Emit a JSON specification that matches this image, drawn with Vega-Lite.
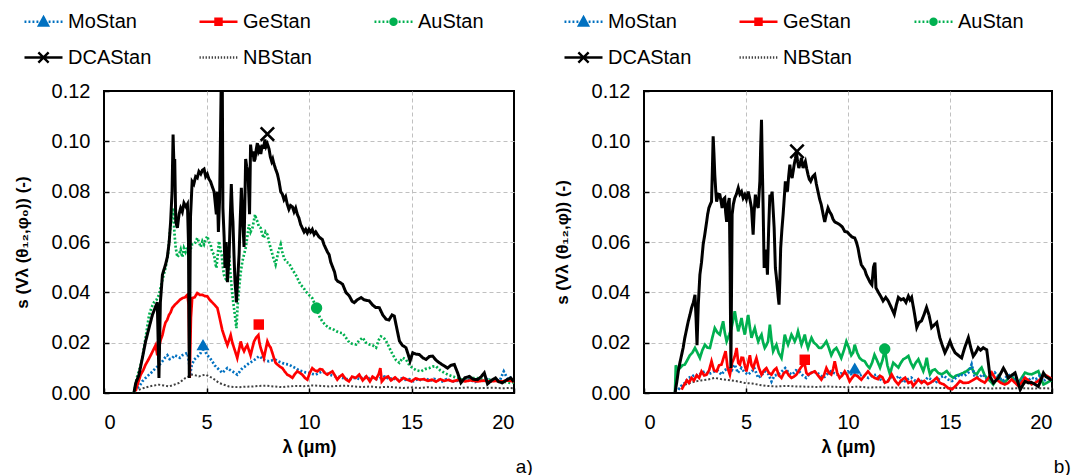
{
"$schema": "https://vega.github.io/schema/vega-lite/v6.json",
"padding": {"left": 12, "top": 0, "right": 5, "bottom": 0},
"spacing": 18,
"config": {
 "font": "Liberation Sans",
 "view": {"stroke": "#000000", "strokeWidth": 2},
 "axis": {"domain": false, "grid": true, "gridColor": "#c0c0c0", "gridDash": [4, 3], "gridWidth": 1, "ticks": true, "tickColor": "#000000", "tickSize": -5, "tickWidth": 1.5, "labelFontSize": 20, "labelColor": "#000000", "titleFontSize": 18, "titleFontWeight": "bold", "titleColor": "#000000"},
 "title": {"fontSize": 19, "fontWeight": "normal", "color": "#000000"},
 "legend": {"direction": "horizontal", "columns": 3, "gridAlign": "all", "columnPadding": 42, "rowPadding": 5, "labelFontSize": 20, "labelOffset": 4, "labelColor": "#000000", "symbolStrokeWidth": 2.4, "symbolSize": 1444, "symbolOpacity": 1, "padding": 0}
},
"resolve": {"scale": {"color": "independent", "shape": "independent", "stroke": "independent", "fill": "independent"}},
"datasets": {
 "markers": [
  {"panel": "a", "series": "MoStan", "x": 4.83, "y": 0.0192},
  {"panel": "a", "series": "GeStan", "x": 7.55, "y": 0.0272},
  {"panel": "a", "series": "AuStan", "x": 10.37, "y": 0.0338},
  {"panel": "a", "series": "DCAStan", "x": 7.97, "y": 0.1029},
  {"panel": "b", "series": "MoStan", "x": 10.33, "y": 0.0099},
  {"panel": "b", "series": "GeStan", "x": 7.88, "y": 0.0132},
  {"panel": "b", "series": "AuStan", "x": 11.8, "y": 0.0175},
  {"panel": "b", "series": "DCAStan", "x": 7.5, "y": 0.096}
 ],
 "lines": [
{"panel":"a","series":"NBStan","x":1.7,"y":0.0013},{"panel":"a","series":"NBStan","x":1.95,"y":0.002},{"panel":"a","series":"NBStan","x":2.2,"y":0.0026},{"panel":"a","series":"NBStan","x":2.45,"y":0.003},{"panel":"a","series":"NBStan","x":2.68,"y":0.0033},{"panel":"a","series":"NBStan","x":2.92,"y":0.003},{"panel":"a","series":"NBStan","x":3.17,"y":0.0026},{"panel":"a","series":"NBStan","x":3.42,"y":0.0033},{"panel":"a","series":"NBStan","x":3.66,"y":0.004},{"panel":"a","series":"NBStan","x":3.82,"y":0.005},{"panel":"a","series":"NBStan","x":3.98,"y":0.006},{"panel":"a","series":"NBStan","x":4.14,"y":0.0066},{"panel":"a","series":"NBStan","x":4.3,"y":0.0073},{"panel":"a","series":"NBStan","x":4.47,"y":0.007},{"panel":"a","series":"NBStan","x":4.63,"y":0.0066},{"panel":"a","series":"NBStan","x":4.8,"y":0.007},{"panel":"a","series":"NBStan","x":4.96,"y":0.0073},{"panel":"a","series":"NBStan","x":5.12,"y":0.0066},{"panel":"a","series":"NBStan","x":5.28,"y":0.006},{"panel":"a","series":"NBStan","x":5.45,"y":0.005},{"panel":"a","series":"NBStan","x":5.61,"y":0.004},{"panel":"a","series":"NBStan","x":5.85,"y":0.0033},{"panel":"a","series":"NBStan","x":6.1,"y":0.0026},{"panel":"a","series":"NBStan","x":6.35,"y":0.0024},{"panel":"a","series":"NBStan","x":6.59,"y":0.0023},{"panel":"a","series":"NBStan","x":6.9,"y":0.0025},{"panel":"a","series":"NBStan","x":7.24,"y":0.0026},{"panel":"a","series":"NBStan","x":7.55,"y":0.0028},{"panel":"a","series":"NBStan","x":7.89,"y":0.0029},{"panel":"a","series":"NBStan","x":8.3,"y":0.0026},{"panel":"a","series":"NBStan","x":8.7,"y":0.0023},{"panel":"a","series":"NBStan","x":9.0,"y":0.0026},{"panel":"a","series":"NBStan","x":9.35,"y":0.0028},{"panel":"a","series":"NBStan","x":9.75,"y":0.0027},{"panel":"a","series":"NBStan","x":10.16,"y":0.003},{"panel":"a","series":"NBStan","x":10.6,"y":0.0028},{"panel":"a","series":"NBStan","x":10.98,"y":0.0026},{"panel":"a","series":"NBStan","x":11.4,"y":0.0028},{"panel":"a","series":"NBStan","x":11.79,"y":0.0029},{"panel":"a","series":"NBStan","x":12.2,"y":0.0026},{"panel":"a","series":"NBStan","x":12.6,"y":0.0024},{"panel":"a","series":"NBStan","x":13.0,"y":0.0026},{"panel":"a","series":"NBStan","x":13.4,"y":0.0022},{"panel":"a","series":"NBStan","x":13.8,"y":0.0025},{"panel":"a","series":"NBStan","x":14.2,"y":0.0022},{"panel":"a","series":"NBStan","x":14.6,"y":0.002},{"panel":"a","series":"NBStan","x":15.0,"y":0.0022},{"panel":"a","series":"NBStan","x":15.4,"y":0.002},{"panel":"a","series":"NBStan","x":15.8,"y":0.0023},{"panel":"a","series":"NBStan","x":16.2,"y":0.002},{"panel":"a","series":"NBStan","x":16.6,"y":0.0022},{"panel":"a","series":"NBStan","x":17.0,"y":0.0019},{"panel":"a","series":"NBStan","x":17.4,"y":0.002},{"panel":"a","series":"NBStan","x":17.8,"y":0.0022},{"panel":"a","series":"NBStan","x":18.2,"y":0.0019},{"panel":"a","series":"NBStan","x":18.6,"y":0.002},{"panel":"a","series":"NBStan","x":19.0,"y":0.0021},{"panel":"a","series":"NBStan","x":19.4,"y":0.0019},{"panel":"a","series":"NBStan","x":19.8,"y":0.002},{"panel":"a","series":"NBStan","x":20.0,"y":0.0019},
{"panel":"a","series":"AuStan","x":1.46,"y":0.0},{"panel":"a","series":"AuStan","x":1.6,"y":0.006},{"panel":"a","series":"AuStan","x":1.75,"y":0.01},{"panel":"a","series":"AuStan","x":1.87,"y":0.0139},{"panel":"a","series":"AuStan","x":2.03,"y":0.022},{"panel":"a","series":"AuStan","x":2.2,"y":0.031},{"panel":"a","series":"AuStan","x":2.32,"y":0.034},{"panel":"a","series":"AuStan","x":2.44,"y":0.036},{"panel":"a","series":"AuStan","x":2.56,"y":0.037},{"panel":"a","series":"AuStan","x":2.68,"y":0.039},{"panel":"a","series":"AuStan","x":2.85,"y":0.045},{"panel":"a","series":"AuStan","x":3.0,"y":0.0497},{"panel":"a","series":"AuStan","x":3.12,"y":0.055},{"panel":"a","series":"AuStan","x":3.25,"y":0.0669},{"panel":"a","series":"AuStan","x":3.32,"y":0.07},{"panel":"a","series":"AuStan","x":3.37,"y":0.0735},{"panel":"a","series":"AuStan","x":3.44,"y":0.063},{"panel":"a","series":"AuStan","x":3.5,"y":0.0576},{"panel":"a","series":"AuStan","x":3.58,"y":0.054},{"panel":"a","series":"AuStan","x":3.66,"y":0.055},{"panel":"a","series":"AuStan","x":3.74,"y":0.057},{"panel":"a","series":"AuStan","x":3.82,"y":0.054},{"panel":"a","series":"AuStan","x":3.9,"y":0.0576},{"panel":"a","series":"AuStan","x":3.98,"y":0.056},{"panel":"a","series":"AuStan","x":4.07,"y":0.058},{"panel":"a","series":"AuStan","x":4.15,"y":0.055},{"panel":"a","series":"AuStan","x":4.22,"y":0.057},{"panel":"a","series":"AuStan","x":4.3,"y":0.059},{"panel":"a","series":"AuStan","x":4.39,"y":0.059},{"panel":"a","series":"AuStan","x":4.47,"y":0.06},{"panel":"a","series":"AuStan","x":4.55,"y":0.0616},{"panel":"a","series":"AuStan","x":4.63,"y":0.06},{"panel":"a","series":"AuStan","x":4.72,"y":0.058},{"panel":"a","series":"AuStan","x":4.8,"y":0.0603},{"panel":"a","series":"AuStan","x":4.88,"y":0.059},{"panel":"a","series":"AuStan","x":4.96,"y":0.061},{"panel":"a","series":"AuStan","x":5.04,"y":0.0623},{"panel":"a","series":"AuStan","x":5.12,"y":0.06},{"panel":"a","series":"AuStan","x":5.2,"y":0.059},{"panel":"a","series":"AuStan","x":5.28,"y":0.056},{"panel":"a","series":"AuStan","x":5.37,"y":0.055},{"panel":"a","series":"AuStan","x":5.42,"y":0.052},{"panel":"a","series":"AuStan","x":5.48,"y":0.0497},{"panel":"a","series":"AuStan","x":5.55,"y":0.055},{"panel":"a","series":"AuStan","x":5.61,"y":0.0603},{"panel":"a","series":"AuStan","x":5.68,"y":0.057},{"panel":"a","series":"AuStan","x":5.74,"y":0.055},{"panel":"a","series":"AuStan","x":5.8,"y":0.05},{"panel":"a","series":"AuStan","x":5.85,"y":0.047},{"panel":"a","series":"AuStan","x":5.92,"y":0.046},{"panel":"a","series":"AuStan","x":5.97,"y":0.0444},{"panel":"a","series":"AuStan","x":6.04,"y":0.05},{"panel":"a","series":"AuStan","x":6.1,"y":0.055},{"panel":"a","series":"AuStan","x":6.16,"y":0.048},{"panel":"a","series":"AuStan","x":6.23,"y":0.0417},{"panel":"a","series":"AuStan","x":6.29,"y":0.037},{"panel":"a","series":"AuStan","x":6.34,"y":0.0338},{"panel":"a","series":"AuStan","x":6.4,"y":0.03},{"panel":"a","series":"AuStan","x":6.46,"y":0.0258},{"panel":"a","series":"AuStan","x":6.52,"y":0.035},{"panel":"a","series":"AuStan","x":6.59,"y":0.0417},{"panel":"a","series":"AuStan","x":6.67,"y":0.048},{"panel":"a","series":"AuStan","x":6.75,"y":0.0523},{"panel":"a","series":"AuStan","x":6.83,"y":0.055},{"panel":"a","series":"AuStan","x":6.91,"y":0.0576},{"panel":"a","series":"AuStan","x":6.99,"y":0.062},{"panel":"a","series":"AuStan","x":7.07,"y":0.0669},{"panel":"a","series":"AuStan","x":7.15,"y":0.064},{"panel":"a","series":"AuStan","x":7.24,"y":0.0656},{"panel":"a","series":"AuStan","x":7.3,"y":0.068},{"panel":"a","series":"AuStan","x":7.37,"y":0.0709},{"panel":"a","series":"AuStan","x":7.43,"y":0.069},{"panel":"a","series":"AuStan","x":7.48,"y":0.0682},{"panel":"a","series":"AuStan","x":7.56,"y":0.066},{"panel":"a","series":"AuStan","x":7.64,"y":0.0656},{"panel":"a","series":"AuStan","x":7.72,"y":0.063},{"panel":"a","series":"AuStan","x":7.8,"y":0.0616},{"panel":"a","series":"AuStan","x":7.88,"y":0.064},{"panel":"a","series":"AuStan","x":7.97,"y":0.063},{"panel":"a","series":"AuStan","x":8.05,"y":0.06},{"panel":"a","series":"AuStan","x":8.13,"y":0.0576},{"panel":"a","series":"AuStan","x":8.25,"y":0.054},{"panel":"a","series":"AuStan","x":8.37,"y":0.051},{"panel":"a","series":"AuStan","x":8.5,"y":0.056},{"panel":"a","series":"AuStan","x":8.62,"y":0.059},{"panel":"a","series":"AuStan","x":8.7,"y":0.056},{"panel":"a","series":"AuStan","x":8.78,"y":0.0536},{"panel":"a","series":"AuStan","x":8.9,"y":0.052},{"panel":"a","series":"AuStan","x":9.02,"y":0.0517},{"panel":"a","series":"AuStan","x":9.19,"y":0.049},{"panel":"a","series":"AuStan","x":9.35,"y":0.047},{"panel":"a","series":"AuStan","x":9.47,"y":0.045},{"panel":"a","series":"AuStan","x":9.59,"y":0.043},{"panel":"a","series":"AuStan","x":9.72,"y":0.042},{"panel":"a","series":"AuStan","x":9.84,"y":0.0404},{"panel":"a","series":"AuStan","x":10.0,"y":0.039},{"panel":"a","series":"AuStan","x":10.16,"y":0.0377},{"panel":"a","series":"AuStan","x":10.3,"y":0.035},{"panel":"a","series":"AuStan","x":10.41,"y":0.0325},{"panel":"a","series":"AuStan","x":10.53,"y":0.03},{"panel":"a","series":"AuStan","x":10.65,"y":0.0285},{"panel":"a","series":"AuStan","x":10.8,"y":0.027},{"panel":"a","series":"AuStan","x":10.98,"y":0.0258},{"panel":"a","series":"AuStan","x":11.14,"y":0.0255},{"panel":"a","series":"AuStan","x":11.32,"y":0.0246},{"panel":"a","series":"AuStan","x":11.47,"y":0.024},{"panel":"a","series":"AuStan","x":11.64,"y":0.0238},{"panel":"a","series":"AuStan","x":11.8,"y":0.022},{"panel":"a","series":"AuStan","x":11.97,"y":0.02},{"panel":"a","series":"AuStan","x":12.13,"y":0.0195},{"panel":"a","series":"AuStan","x":12.3,"y":0.0193},{"panel":"a","series":"AuStan","x":12.46,"y":0.021},{"panel":"a","series":"AuStan","x":12.62,"y":0.022},{"panel":"a","series":"AuStan","x":12.78,"y":0.02},{"panel":"a","series":"AuStan","x":12.94,"y":0.0193},{"panel":"a","series":"AuStan","x":13.1,"y":0.019},{"panel":"a","series":"AuStan","x":13.27,"y":0.018},{"panel":"a","series":"AuStan","x":13.4,"y":0.021},{"panel":"a","series":"AuStan","x":13.51,"y":0.0225},{"panel":"a","series":"AuStan","x":13.64,"y":0.022},{"panel":"a","series":"AuStan","x":13.76,"y":0.0207},{"panel":"a","series":"AuStan","x":13.92,"y":0.018},{"panel":"a","series":"AuStan","x":14.08,"y":0.0153},{"panel":"a","series":"AuStan","x":14.25,"y":0.013},{"panel":"a","series":"AuStan","x":14.41,"y":0.012},{"panel":"a","series":"AuStan","x":14.57,"y":0.014},{"panel":"a","series":"AuStan","x":14.73,"y":0.0133},{"panel":"a","series":"AuStan","x":14.9,"y":0.011},{"panel":"a","series":"AuStan","x":15.06,"y":0.0099},{"panel":"a","series":"AuStan","x":15.25,"y":0.009},{"panel":"a","series":"AuStan","x":15.46,"y":0.0086},{"panel":"a","series":"AuStan","x":15.66,"y":0.0095},{"panel":"a","series":"AuStan","x":15.87,"y":0.0099},{"panel":"a","series":"AuStan","x":16.03,"y":0.0105},{"panel":"a","series":"AuStan","x":16.2,"y":0.0106},{"panel":"a","series":"AuStan","x":16.4,"y":0.009},{"panel":"a","series":"AuStan","x":16.6,"y":0.008},{"panel":"a","series":"AuStan","x":16.8,"y":0.0072},{"panel":"a","series":"AuStan","x":17.0,"y":0.0066},{"panel":"a","series":"AuStan","x":17.25,"y":0.006},{"panel":"a","series":"AuStan","x":17.49,"y":0.0053},{"panel":"a","series":"AuStan","x":17.8,"y":0.0058},{"panel":"a","series":"AuStan","x":18.14,"y":0.006},{"panel":"a","series":"AuStan","x":18.45,"y":0.0055},{"panel":"a","series":"AuStan","x":18.79,"y":0.0053},{"panel":"a","series":"AuStan","x":19.1,"y":0.005},{"panel":"a","series":"AuStan","x":19.43,"y":0.0046},{"panel":"a","series":"AuStan","x":19.84,"y":0.004},{"panel":"a","series":"AuStan","x":20.0,"y":0.0042},
{"panel":"a","series":"MoStan","x":1.63,"y":0.002},{"panel":"a","series":"MoStan","x":1.75,"y":0.003},{"panel":"a","series":"MoStan","x":1.87,"y":0.0046},{"panel":"a","series":"MoStan","x":2.03,"y":0.006},{"panel":"a","series":"MoStan","x":2.2,"y":0.0073},{"panel":"a","series":"MoStan","x":2.36,"y":0.0085},{"panel":"a","series":"MoStan","x":2.52,"y":0.0099},{"panel":"a","series":"MoStan","x":2.68,"y":0.011},{"panel":"a","series":"MoStan","x":2.85,"y":0.0126},{"panel":"a","series":"MoStan","x":2.97,"y":0.014},{"panel":"a","series":"MoStan","x":3.09,"y":0.015},{"panel":"a","series":"MoStan","x":3.2,"y":0.0135},{"panel":"a","series":"MoStan","x":3.33,"y":0.0139},{"panel":"a","series":"MoStan","x":3.45,"y":0.015},{"panel":"a","series":"MoStan","x":3.58,"y":0.0146},{"panel":"a","series":"MoStan","x":3.7,"y":0.014},{"panel":"a","series":"MoStan","x":3.82,"y":0.015},{"panel":"a","series":"MoStan","x":3.95,"y":0.0155},{"panel":"a","series":"MoStan","x":4.07,"y":0.0159},{"panel":"a","series":"MoStan","x":4.15,"y":0.012},{"panel":"a","series":"MoStan","x":4.2,"y":0.0073},{"panel":"a","series":"MoStan","x":4.28,"y":0.011},{"panel":"a","series":"MoStan","x":4.39,"y":0.0132},{"panel":"a","series":"MoStan","x":4.5,"y":0.014},{"panel":"a","series":"MoStan","x":4.63,"y":0.015},{"panel":"a","series":"MoStan","x":4.72,"y":0.016},{"panel":"a","series":"MoStan","x":4.83,"y":0.018},{"panel":"a","series":"MoStan","x":4.93,"y":0.0165},{"panel":"a","series":"MoStan","x":5.04,"y":0.015},{"panel":"a","series":"MoStan","x":5.16,"y":0.014},{"panel":"a","series":"MoStan","x":5.28,"y":0.0126},{"panel":"a","series":"MoStan","x":5.4,"y":0.011},{"panel":"a","series":"MoStan","x":5.53,"y":0.0099},{"panel":"a","series":"MoStan","x":5.65,"y":0.009},{"panel":"a","series":"MoStan","x":5.77,"y":0.008},{"panel":"a","series":"MoStan","x":5.9,"y":0.009},{"panel":"a","series":"MoStan","x":6.02,"y":0.0099},{"panel":"a","series":"MoStan","x":6.14,"y":0.0092},{"panel":"a","series":"MoStan","x":6.26,"y":0.0086},{"panel":"a","series":"MoStan","x":6.38,"y":0.008},{"panel":"a","series":"MoStan","x":6.5,"y":0.0073},{"panel":"a","series":"MoStan","x":6.62,"y":0.0085},{"panel":"a","series":"MoStan","x":6.75,"y":0.0099},{"panel":"a","series":"MoStan","x":6.87,"y":0.0105},{"panel":"a","series":"MoStan","x":6.99,"y":0.0113},{"panel":"a","series":"MoStan","x":7.11,"y":0.012},{"panel":"a","series":"MoStan","x":7.24,"y":0.0126},{"panel":"a","series":"MoStan","x":7.4,"y":0.0135},{"panel":"a","series":"MoStan","x":7.56,"y":0.0146},{"panel":"a","series":"MoStan","x":7.68,"y":0.014},{"panel":"a","series":"MoStan","x":7.8,"y":0.0132},{"panel":"a","series":"MoStan","x":7.92,"y":0.0128},{"panel":"a","series":"MoStan","x":8.05,"y":0.0126},{"panel":"a","series":"MoStan","x":8.21,"y":0.013},{"panel":"a","series":"MoStan","x":8.37,"y":0.0132},{"panel":"a","series":"MoStan","x":8.53,"y":0.0125},{"panel":"a","series":"MoStan","x":8.7,"y":0.0119},{"panel":"a","series":"MoStan","x":8.86,"y":0.0115},{"panel":"a","series":"MoStan","x":9.02,"y":0.0113},{"panel":"a","series":"MoStan","x":9.19,"y":0.0105},{"panel":"a","series":"MoStan","x":9.35,"y":0.0099},{"panel":"a","series":"MoStan","x":9.51,"y":0.009},{"panel":"a","series":"MoStan","x":9.67,"y":0.0086},{"panel":"a","series":"MoStan","x":9.84,"y":0.0082},{"panel":"a","series":"MoStan","x":10.0,"y":0.008},{"panel":"a","series":"MoStan","x":10.16,"y":0.0076},{"panel":"a","series":"MoStan","x":10.33,"y":0.0073},{"panel":"a","series":"MoStan","x":10.49,"y":0.008},{"panel":"a","series":"MoStan","x":10.65,"y":0.0086},{"panel":"a","series":"MoStan","x":10.82,"y":0.008},{"panel":"a","series":"MoStan","x":10.98,"y":0.0073},{"panel":"a","series":"MoStan","x":11.14,"y":0.007},{"panel":"a","series":"MoStan","x":11.3,"y":0.0066},{"panel":"a","series":"MoStan","x":11.47,"y":0.0063},{"panel":"a","series":"MoStan","x":11.63,"y":0.006},{"panel":"a","series":"MoStan","x":11.8,"y":0.0056},{"panel":"a","series":"MoStan","x":11.95,"y":0.0053},{"panel":"a","series":"MoStan","x":12.12,"y":0.0058},{"panel":"a","series":"MoStan","x":12.28,"y":0.006},{"panel":"a","series":"MoStan","x":12.5,"y":0.0055},{"panel":"a","series":"MoStan","x":12.7,"y":0.0066},{"panel":"a","series":"MoStan","x":12.9,"y":0.0058},{"panel":"a","series":"MoStan","x":13.1,"y":0.0062},{"panel":"a","series":"MoStan","x":13.3,"y":0.0055},{"panel":"a","series":"MoStan","x":13.5,"y":0.006},{"panel":"a","series":"MoStan","x":13.7,"y":0.0066},{"panel":"a","series":"MoStan","x":13.9,"y":0.0055},{"panel":"a","series":"MoStan","x":14.1,"y":0.006},{"panel":"a","series":"MoStan","x":14.3,"y":0.005},{"panel":"a","series":"MoStan","x":14.5,"y":0.0058},{"panel":"a","series":"MoStan","x":14.7,"y":0.0052},{"panel":"a","series":"MoStan","x":14.9,"y":0.0055},{"panel":"a","series":"MoStan","x":15.1,"y":0.0047},{"panel":"a","series":"MoStan","x":15.3,"y":0.0055},{"panel":"a","series":"MoStan","x":15.5,"y":0.005},{"panel":"a","series":"MoStan","x":15.7,"y":0.0058},{"panel":"a","series":"MoStan","x":15.9,"y":0.0048},{"panel":"a","series":"MoStan","x":16.1,"y":0.0056},{"panel":"a","series":"MoStan","x":16.3,"y":0.0052},{"panel":"a","series":"MoStan","x":16.5,"y":0.0046},{"panel":"a","series":"MoStan","x":16.7,"y":0.0055},{"panel":"a","series":"MoStan","x":16.9,"y":0.005},{"panel":"a","series":"MoStan","x":17.1,"y":0.0045},{"panel":"a","series":"MoStan","x":17.3,"y":0.005},{"panel":"a","series":"MoStan","x":17.5,"y":0.0046},{"panel":"a","series":"MoStan","x":17.7,"y":0.0055},{"panel":"a","series":"MoStan","x":17.9,"y":0.005},{"panel":"a","series":"MoStan","x":18.1,"y":0.0044},{"panel":"a","series":"MoStan","x":18.3,"y":0.0052},{"panel":"a","series":"MoStan","x":18.5,"y":0.0048},{"panel":"a","series":"MoStan","x":18.7,"y":0.0055},{"panel":"a","series":"MoStan","x":18.9,"y":0.0046},{"panel":"a","series":"MoStan","x":19.1,"y":0.0052},{"panel":"a","series":"MoStan","x":19.3,"y":0.0048},{"panel":"a","series":"MoStan","x":19.5,"y":0.0086},{"panel":"a","series":"MoStan","x":19.7,"y":0.0055},{"panel":"a","series":"MoStan","x":19.9,"y":0.0065},
{"panel":"a","series":"GeStan","x":1.54,"y":0.0007},{"panel":"a","series":"GeStan","x":1.66,"y":0.004},{"panel":"a","series":"GeStan","x":1.79,"y":0.0073},{"panel":"a","series":"GeStan","x":1.91,"y":0.009},{"panel":"a","series":"GeStan","x":2.03,"y":0.0113},{"panel":"a","series":"GeStan","x":2.15,"y":0.013},{"panel":"a","series":"GeStan","x":2.28,"y":0.015},{"panel":"a","series":"GeStan","x":2.4,"y":0.017},{"panel":"a","series":"GeStan","x":2.52,"y":0.019},{"panel":"a","series":"GeStan","x":2.6,"y":0.015},{"panel":"a","series":"GeStan","x":2.68,"y":0.018},{"panel":"a","series":"GeStan","x":2.76,"y":0.021},{"panel":"a","series":"GeStan","x":2.85,"y":0.023},{"panel":"a","series":"GeStan","x":2.93,"y":0.026},{"panel":"a","series":"GeStan","x":3.0,"y":0.028},{"panel":"a","series":"GeStan","x":3.08,"y":0.029},{"panel":"a","series":"GeStan","x":3.17,"y":0.031},{"panel":"a","series":"GeStan","x":3.25,"y":0.032},{"panel":"a","series":"GeStan","x":3.33,"y":0.0338},{"panel":"a","series":"GeStan","x":3.45,"y":0.035},{"panel":"a","series":"GeStan","x":3.58,"y":0.036},{"panel":"a","series":"GeStan","x":3.7,"y":0.037},{"panel":"a","series":"GeStan","x":3.82,"y":0.0377},{"panel":"a","series":"GeStan","x":3.95,"y":0.038},{"panel":"a","series":"GeStan","x":4.07,"y":0.039},{"panel":"a","series":"GeStan","x":4.13,"y":0.035},{"panel":"a","series":"GeStan","x":4.18,"y":0.006},{"panel":"a","series":"GeStan","x":4.24,"y":0.03},{"panel":"a","series":"GeStan","x":4.3,"y":0.0377},{"panel":"a","series":"GeStan","x":4.42,"y":0.038},{"panel":"a","series":"GeStan","x":4.55,"y":0.0397},{"panel":"a","series":"GeStan","x":4.67,"y":0.039},{"panel":"a","series":"GeStan","x":4.8,"y":0.039},{"panel":"a","series":"GeStan","x":4.92,"y":0.0385},{"panel":"a","series":"GeStan","x":5.04,"y":0.0384},{"panel":"a","series":"GeStan","x":5.16,"y":0.037},{"panel":"a","series":"GeStan","x":5.28,"y":0.036},{"panel":"a","series":"GeStan","x":5.4,"y":0.035},{"panel":"a","series":"GeStan","x":5.53,"y":0.0338},{"panel":"a","series":"GeStan","x":5.61,"y":0.031},{"panel":"a","series":"GeStan","x":5.69,"y":0.028},{"panel":"a","series":"GeStan","x":5.77,"y":0.025},{"panel":"a","series":"GeStan","x":5.85,"y":0.023},{"panel":"a","series":"GeStan","x":5.93,"y":0.021},{"panel":"a","series":"GeStan","x":6.02,"y":0.019},{"panel":"a","series":"GeStan","x":6.1,"y":0.021},{"panel":"a","series":"GeStan","x":6.18,"y":0.023},{"panel":"a","series":"GeStan","x":6.26,"y":0.02},{"panel":"a","series":"GeStan","x":6.34,"y":0.018},{"panel":"a","series":"GeStan","x":6.42,"y":0.016},{"panel":"a","series":"GeStan","x":6.5,"y":0.0139},{"panel":"a","series":"GeStan","x":6.58,"y":0.017},{"panel":"a","series":"GeStan","x":6.67,"y":0.0205},{"panel":"a","series":"GeStan","x":6.75,"y":0.018},{"panel":"a","series":"GeStan","x":6.83,"y":0.0166},{"panel":"a","series":"GeStan","x":6.91,"y":0.018},{"panel":"a","series":"GeStan","x":6.99,"y":0.019},{"panel":"a","series":"GeStan","x":7.07,"y":0.017},{"panel":"a","series":"GeStan","x":7.15,"y":0.015},{"panel":"a","series":"GeStan","x":7.24,"y":0.018},{"panel":"a","series":"GeStan","x":7.32,"y":0.0205},{"panel":"a","series":"GeStan","x":7.42,"y":0.022},{"panel":"a","series":"GeStan","x":7.53,"y":0.023},{"panel":"a","series":"GeStan","x":7.58,"y":0.02},{"panel":"a","series":"GeStan","x":7.64,"y":0.018},{"panel":"a","series":"GeStan","x":7.72,"y":0.016},{"panel":"a","series":"GeStan","x":7.8,"y":0.0139},{"panel":"a","series":"GeStan","x":7.88,"y":0.017},{"panel":"a","series":"GeStan","x":7.97,"y":0.0205},{"panel":"a","series":"GeStan","x":8.05,"y":0.019},{"panel":"a","series":"GeStan","x":8.13,"y":0.018},{"panel":"a","series":"GeStan","x":8.21,"y":0.016},{"panel":"a","series":"GeStan","x":8.29,"y":0.0139},{"panel":"a","series":"GeStan","x":8.37,"y":0.012},{"panel":"a","series":"GeStan","x":8.46,"y":0.0113},{"panel":"a","series":"GeStan","x":8.58,"y":0.0105},{"panel":"a","series":"GeStan","x":8.7,"y":0.0099},{"panel":"a","series":"GeStan","x":8.82,"y":0.0085},{"panel":"a","series":"GeStan","x":8.94,"y":0.0073},{"panel":"a","series":"GeStan","x":9.06,"y":0.0068},{"panel":"a","series":"GeStan","x":9.19,"y":0.006},{"panel":"a","series":"GeStan","x":9.31,"y":0.0075},{"panel":"a","series":"GeStan","x":9.43,"y":0.0086},{"panel":"a","series":"GeStan","x":9.55,"y":0.008},{"panel":"a","series":"GeStan","x":9.67,"y":0.0073},{"panel":"a","series":"GeStan","x":9.8,"y":0.006},{"panel":"a","series":"GeStan","x":9.92,"y":0.0053},{"panel":"a","series":"GeStan","x":10.04,"y":0.008},{"panel":"a","series":"GeStan","x":10.16,"y":0.0099},{"panel":"a","series":"GeStan","x":10.28,"y":0.009},{"panel":"a","series":"GeStan","x":10.41,"y":0.0086},{"panel":"a","series":"GeStan","x":10.53,"y":0.0095},{"panel":"a","series":"GeStan","x":10.65,"y":0.0093},{"panel":"a","series":"GeStan","x":10.77,"y":0.008},{"panel":"a","series":"GeStan","x":10.89,"y":0.0073},{"panel":"a","series":"GeStan","x":11.02,"y":0.008},{"panel":"a","series":"GeStan","x":11.14,"y":0.0086},{"panel":"a","series":"GeStan","x":11.26,"y":0.007},{"panel":"a","series":"GeStan","x":11.38,"y":0.0053},{"panel":"a","series":"GeStan","x":11.5,"y":0.0065},{"panel":"a","series":"GeStan","x":11.63,"y":0.0073},{"panel":"a","series":"GeStan","x":11.79,"y":0.0055},{"panel":"a","series":"GeStan","x":11.95,"y":0.0046},{"panel":"a","series":"GeStan","x":12.1,"y":0.0065},{"panel":"a","series":"GeStan","x":12.28,"y":0.006},{"panel":"a","series":"GeStan","x":12.45,"y":0.0073},{"panel":"a","series":"GeStan","x":12.62,"y":0.005},{"panel":"a","series":"GeStan","x":12.8,"y":0.0066},{"panel":"a","series":"GeStan","x":12.97,"y":0.0046},{"panel":"a","series":"GeStan","x":13.1,"y":0.0065},{"panel":"a","series":"GeStan","x":13.27,"y":0.0055},{"panel":"a","series":"GeStan","x":13.4,"y":0.0075},{"panel":"a","series":"GeStan","x":13.48,"y":0.0099},{"panel":"a","series":"GeStan","x":13.55,"y":0.0046},{"panel":"a","series":"GeStan","x":13.7,"y":0.006},{"panel":"a","series":"GeStan","x":13.86,"y":0.0066},{"panel":"a","series":"GeStan","x":14.0,"y":0.005},{"panel":"a","series":"GeStan","x":14.2,"y":0.0062},{"panel":"a","series":"GeStan","x":14.4,"y":0.0046},{"panel":"a","series":"GeStan","x":14.6,"y":0.006},{"panel":"a","series":"GeStan","x":14.8,"y":0.0053},{"panel":"a","series":"GeStan","x":15.0,"y":0.0046},{"panel":"a","series":"GeStan","x":15.2,"y":0.0058},{"panel":"a","series":"GeStan","x":15.4,"y":0.0053},{"panel":"a","series":"GeStan","x":15.6,"y":0.0055},{"panel":"a","series":"GeStan","x":15.8,"y":0.0048},{"panel":"a","series":"GeStan","x":16.0,"y":0.0053},{"panel":"a","series":"GeStan","x":16.2,"y":0.0045},{"panel":"a","series":"GeStan","x":16.4,"y":0.0055},{"panel":"a","series":"GeStan","x":16.6,"y":0.0048},{"panel":"a","series":"GeStan","x":16.8,"y":0.0052},{"panel":"a","series":"GeStan","x":17.0,"y":0.0046},{"panel":"a","series":"GeStan","x":17.3,"y":0.0052},{"panel":"a","series":"GeStan","x":17.6,"y":0.0046},{"panel":"a","series":"GeStan","x":17.9,"y":0.005},{"panel":"a","series":"GeStan","x":18.2,"y":0.0046},{"panel":"a","series":"GeStan","x":18.5,"y":0.0049},{"panel":"a","series":"GeStan","x":18.8,"y":0.0046},{"panel":"a","series":"GeStan","x":19.1,"y":0.0048},{"panel":"a","series":"GeStan","x":19.4,"y":0.0046},{"panel":"a","series":"GeStan","x":19.7,"y":0.005},{"panel":"a","series":"GeStan","x":20.0,"y":0.0046},
{"panel":"a","series":"DCAStan","x":1.46,"y":0.0},{"panel":"a","series":"DCAStan","x":1.55,"y":0.004},{"panel":"a","series":"DCAStan","x":1.7,"y":0.007},{"panel":"a","series":"DCAStan","x":1.85,"y":0.013},{"panel":"a","series":"DCAStan","x":2.03,"y":0.0205},{"panel":"a","series":"DCAStan","x":2.2,"y":0.026},{"panel":"a","series":"DCAStan","x":2.36,"y":0.031},{"panel":"a","series":"DCAStan","x":2.5,"y":0.034},{"panel":"a","series":"DCAStan","x":2.6,"y":0.036},{"panel":"a","series":"DCAStan","x":2.68,"y":0.006},{"panel":"a","series":"DCAStan","x":2.75,"y":0.036},{"panel":"a","series":"DCAStan","x":2.85,"y":0.047},{"panel":"a","series":"DCAStan","x":3.0,"y":0.051},{"panel":"a","series":"DCAStan","x":3.09,"y":0.054},{"panel":"a","series":"DCAStan","x":3.18,"y":0.06},{"panel":"a","series":"DCAStan","x":3.25,"y":0.068},{"panel":"a","series":"DCAStan","x":3.32,"y":0.08},{"panel":"a","series":"DCAStan","x":3.37,"y":0.1027},{"panel":"a","series":"DCAStan","x":3.42,"y":0.088},{"panel":"a","series":"DCAStan","x":3.45,"y":0.093},{"panel":"a","series":"DCAStan","x":3.5,"y":0.068},{"panel":"a","series":"DCAStan","x":3.58,"y":0.0656},{"panel":"a","series":"DCAStan","x":3.66,"y":0.071},{"panel":"a","series":"DCAStan","x":3.74,"y":0.0735},{"panel":"a","series":"DCAStan","x":3.82,"y":0.072},{"panel":"a","series":"DCAStan","x":3.9,"y":0.0755},{"panel":"a","series":"DCAStan","x":4.0,"y":0.074},{"panel":"a","series":"DCAStan","x":4.07,"y":0.075},{"panel":"a","series":"DCAStan","x":4.12,"y":0.06},{"panel":"a","series":"DCAStan","x":4.16,"y":0.006},{"panel":"a","series":"DCAStan","x":4.22,"y":0.07},{"panel":"a","series":"DCAStan","x":4.3,"y":0.084},{"panel":"a","series":"DCAStan","x":4.38,"y":0.083},{"panel":"a","series":"DCAStan","x":4.47,"y":0.086},{"panel":"a","series":"DCAStan","x":4.55,"y":0.0855},{"panel":"a","series":"DCAStan","x":4.63,"y":0.088},{"panel":"a","series":"DCAStan","x":4.72,"y":0.087},{"panel":"a","series":"DCAStan","x":4.8,"y":0.0885},{"panel":"a","series":"DCAStan","x":4.88,"y":0.089},{"panel":"a","series":"DCAStan","x":4.96,"y":0.086},{"panel":"a","series":"DCAStan","x":5.04,"y":0.087},{"panel":"a","series":"DCAStan","x":5.12,"y":0.085},{"panel":"a","series":"DCAStan","x":5.2,"y":0.084},{"panel":"a","series":"DCAStan","x":5.28,"y":0.082},{"panel":"a","series":"DCAStan","x":5.37,"y":0.08},{"panel":"a","series":"DCAStan","x":5.42,"y":0.076},{"panel":"a","series":"DCAStan","x":5.48,"y":0.071},{"panel":"a","series":"DCAStan","x":5.53,"y":0.08},{"panel":"a","series":"DCAStan","x":5.58,"y":0.064},{"panel":"a","series":"DCAStan","x":5.64,"y":0.077},{"panel":"a","series":"DCAStan","x":5.72,"y":0.125},{"panel":"a","series":"DCAStan","x":5.77,"y":0.125},{"panel":"a","series":"DCAStan","x":5.8,"y":0.0735},{"panel":"a","series":"DCAStan","x":5.86,"y":0.062},{"panel":"a","series":"DCAStan","x":5.9,"y":0.0497},{"panel":"a","series":"DCAStan","x":5.96,"y":0.06},{"panel":"a","series":"DCAStan","x":6.02,"y":0.044},{"panel":"a","series":"DCAStan","x":6.1,"y":0.054},{"panel":"a","series":"DCAStan","x":6.16,"y":0.07},{"panel":"a","series":"DCAStan","x":6.21,"y":0.083},{"panel":"a","series":"DCAStan","x":6.26,"y":0.072},{"panel":"a","series":"DCAStan","x":6.29,"y":0.068},{"panel":"a","series":"DCAStan","x":6.34,"y":0.055},{"panel":"a","series":"DCAStan","x":6.39,"y":0.044},{"panel":"a","series":"DCAStan","x":6.43,"y":0.04},{"panel":"a","series":"DCAStan","x":6.46,"y":0.036},{"panel":"a","series":"DCAStan","x":6.52,"y":0.045},{"panel":"a","series":"DCAStan","x":6.59,"y":0.055},{"panel":"a","series":"DCAStan","x":6.65,"y":0.07},{"panel":"a","series":"DCAStan","x":6.7,"y":0.0815},{"panel":"a","series":"DCAStan","x":6.76,"y":0.07},{"panel":"a","series":"DCAStan","x":6.83,"y":0.058},{"panel":"a","series":"DCAStan","x":6.87,"y":0.075},{"panel":"a","series":"DCAStan","x":6.91,"y":0.093},{"panel":"a","series":"DCAStan","x":6.96,"y":0.09},{"panel":"a","series":"DCAStan","x":7.02,"y":0.088},{"panel":"a","series":"DCAStan","x":7.06,"y":0.08},{"panel":"a","series":"DCAStan","x":7.1,"y":0.071},{"panel":"a","series":"DCAStan","x":7.15,"y":0.0987},{"panel":"a","series":"DCAStan","x":7.21,"y":0.094},{"panel":"a","series":"DCAStan","x":7.27,"y":0.096},{"panel":"a","series":"DCAStan","x":7.32,"y":0.092},{"panel":"a","series":"DCAStan","x":7.37,"y":0.093},{"panel":"a","series":"DCAStan","x":7.43,"y":0.097},{"panel":"a","series":"DCAStan","x":7.48,"y":0.0993},{"panel":"a","series":"DCAStan","x":7.54,"y":0.096},{"panel":"a","series":"DCAStan","x":7.59,"y":0.097},{"panel":"a","series":"DCAStan","x":7.65,"y":0.095},{"panel":"a","series":"DCAStan","x":7.72,"y":0.0987},{"panel":"a","series":"DCAStan","x":7.78,"y":0.097},{"panel":"a","series":"DCAStan","x":7.85,"y":0.1007},{"panel":"a","series":"DCAStan","x":7.91,"y":0.098},{"panel":"a","series":"DCAStan","x":7.97,"y":0.099},{"panel":"a","series":"DCAStan","x":8.05,"y":0.097},{"panel":"a","series":"DCAStan","x":8.11,"y":0.094},{"panel":"a","series":"DCAStan","x":8.18,"y":0.092},{"panel":"a","series":"DCAStan","x":8.23,"y":0.093},{"panel":"a","series":"DCAStan","x":8.29,"y":0.091},{"panel":"a","series":"DCAStan","x":8.37,"y":0.089},{"panel":"a","series":"DCAStan","x":8.46,"y":0.087},{"panel":"a","series":"DCAStan","x":8.54,"y":0.084},{"panel":"a","series":"DCAStan","x":8.62,"y":0.08},{"panel":"a","series":"DCAStan","x":8.7,"y":0.079},{"panel":"a","series":"DCAStan","x":8.78,"y":0.0768},{"panel":"a","series":"DCAStan","x":8.86,"y":0.078},{"panel":"a","series":"DCAStan","x":8.94,"y":0.075},{"panel":"a","series":"DCAStan","x":9.02,"y":0.073},{"panel":"a","series":"DCAStan","x":9.1,"y":0.0745},{"panel":"a","series":"DCAStan","x":9.19,"y":0.074},{"panel":"a","series":"DCAStan","x":9.27,"y":0.072},{"panel":"a","series":"DCAStan","x":9.35,"y":0.0735},{"panel":"a","series":"DCAStan","x":9.43,"y":0.071},{"panel":"a","series":"DCAStan","x":9.51,"y":0.0695},{"panel":"a","series":"DCAStan","x":9.59,"y":0.067},{"panel":"a","series":"DCAStan","x":9.67,"y":0.0656},{"panel":"a","series":"DCAStan","x":9.76,"y":0.064},{"panel":"a","series":"DCAStan","x":9.84,"y":0.065},{"panel":"a","series":"DCAStan","x":9.92,"y":0.0636},{"panel":"a","series":"DCAStan","x":10.0,"y":0.065},{"panel":"a","series":"DCAStan","x":10.08,"y":0.064},{"panel":"a","series":"DCAStan","x":10.16,"y":0.065},{"panel":"a","series":"DCAStan","x":10.25,"y":0.063},{"panel":"a","series":"DCAStan","x":10.33,"y":0.064},{"panel":"a","series":"DCAStan","x":10.41,"y":0.063},{"panel":"a","series":"DCAStan","x":10.49,"y":0.062},{"panel":"a","series":"DCAStan","x":10.57,"y":0.0615},{"panel":"a","series":"DCAStan","x":10.65,"y":0.061},{"panel":"a","series":"DCAStan","x":10.73,"y":0.059},{"panel":"a","series":"DCAStan","x":10.81,"y":0.0576},{"panel":"a","series":"DCAStan","x":10.9,"y":0.056},{"panel":"a","series":"DCAStan","x":10.98,"y":0.055},{"panel":"a","series":"DCAStan","x":11.06,"y":0.052},{"panel":"a","series":"DCAStan","x":11.17,"y":0.0497},{"panel":"a","series":"DCAStan","x":11.25,"y":0.048},{"panel":"a","series":"DCAStan","x":11.32,"y":0.0452},{"panel":"a","series":"DCAStan","x":11.4,"y":0.0444},{"panel":"a","series":"DCAStan","x":11.5,"y":0.044},{"panel":"a","series":"DCAStan","x":11.64,"y":0.0432},{"panel":"a","series":"DCAStan","x":11.8,"y":0.04},{"panel":"a","series":"DCAStan","x":11.97,"y":0.0385},{"panel":"a","series":"DCAStan","x":12.1,"y":0.0365},{"panel":"a","series":"DCAStan","x":12.21,"y":0.0359},{"panel":"a","series":"DCAStan","x":12.35,"y":0.037},{"panel":"a","series":"DCAStan","x":12.54,"y":0.0379},{"panel":"a","series":"DCAStan","x":12.7,"y":0.037},{"panel":"a","series":"DCAStan","x":12.94,"y":0.0366},{"panel":"a","series":"DCAStan","x":13.1,"y":0.035},{"panel":"a","series":"DCAStan","x":13.25,"y":0.034},{"panel":"a","series":"DCAStan","x":13.43,"y":0.0339},{"panel":"a","series":"DCAStan","x":13.6,"y":0.031},{"panel":"a","series":"DCAStan","x":13.76,"y":0.0293},{"panel":"a","series":"DCAStan","x":13.9,"y":0.029},{"panel":"a","series":"DCAStan","x":14.05,"y":0.031},{"panel":"a","series":"DCAStan","x":14.16,"y":0.0306},{"panel":"a","series":"DCAStan","x":14.25,"y":0.027},{"panel":"a","series":"DCAStan","x":14.41,"y":0.0207},{"panel":"a","series":"DCAStan","x":14.55,"y":0.019},{"panel":"a","series":"DCAStan","x":14.73,"y":0.018},{"panel":"a","series":"DCAStan","x":14.85,"y":0.015},{"panel":"a","series":"DCAStan","x":14.93,"y":0.0127},{"panel":"a","series":"DCAStan","x":15.06,"y":0.016},{"panel":"a","series":"DCAStan","x":15.2,"y":0.0155},{"panel":"a","series":"DCAStan","x":15.38,"y":0.0153},{"panel":"a","series":"DCAStan","x":15.55,"y":0.014},{"panel":"a","series":"DCAStan","x":15.71,"y":0.0133},{"panel":"a","series":"DCAStan","x":15.87,"y":0.0145},{"panel":"a","series":"DCAStan","x":16.03,"y":0.0147},{"panel":"a","series":"DCAStan","x":16.2,"y":0.013},{"panel":"a","series":"DCAStan","x":16.36,"y":0.012},{"panel":"a","series":"DCAStan","x":16.55,"y":0.011},{"panel":"a","series":"DCAStan","x":16.76,"y":0.0099},{"panel":"a","series":"DCAStan","x":16.92,"y":0.011},{"panel":"a","series":"DCAStan","x":17.09,"y":0.0113},{"panel":"a","series":"DCAStan","x":17.25,"y":0.008},{"panel":"a","series":"DCAStan","x":17.41,"y":0.0041},{"panel":"a","series":"DCAStan","x":17.6,"y":0.006},{"panel":"a","series":"DCAStan","x":17.82,"y":0.0066},{"panel":"a","series":"DCAStan","x":18.0,"y":0.0055},{"panel":"a","series":"DCAStan","x":18.22,"y":0.0053},{"panel":"a","series":"DCAStan","x":18.4,"y":0.0065},{"panel":"a","series":"DCAStan","x":18.55,"y":0.008},{"panel":"a","series":"DCAStan","x":18.71,"y":0.0036},{"panel":"a","series":"DCAStan","x":18.9,"y":0.005},{"panel":"a","series":"DCAStan","x":19.1,"y":0.006},{"panel":"a","series":"DCAStan","x":19.25,"y":0.0045},{"panel":"a","series":"DCAStan","x":19.43,"y":0.004},{"panel":"a","series":"DCAStan","x":19.6,"y":0.005},{"panel":"a","series":"DCAStan","x":19.84,"y":0.006},{"panel":"a","series":"DCAStan","x":20.0,"y":0.0045},
{"panel":"b","series":"NBStan","x":1.52,"y":0.0007},{"panel":"b","series":"NBStan","x":1.7,"y":0.0015},{"panel":"b","series":"NBStan","x":1.84,"y":0.0026},{"panel":"b","series":"NBStan","x":2.0,"y":0.0033},{"panel":"b","series":"NBStan","x":2.2,"y":0.0038},{"panel":"b","series":"NBStan","x":2.5,"y":0.0046},{"panel":"b","series":"NBStan","x":2.8,"y":0.005},{"panel":"b","series":"NBStan","x":3.1,"y":0.0053},{"panel":"b","series":"NBStan","x":3.47,"y":0.006},{"panel":"b","series":"NBStan","x":3.8,"y":0.0055},{"panel":"b","series":"NBStan","x":4.0,"y":0.0053},{"panel":"b","series":"NBStan","x":4.3,"y":0.005},{"panel":"b","series":"NBStan","x":4.6,"y":0.0046},{"panel":"b","series":"NBStan","x":4.94,"y":0.004},{"panel":"b","series":"NBStan","x":5.3,"y":0.0038},{"panel":"b","series":"NBStan","x":5.6,"y":0.0033},{"panel":"b","series":"NBStan","x":6.0,"y":0.0028},{"panel":"b","series":"NBStan","x":6.5,"y":0.0026},{"panel":"b","series":"NBStan","x":7.0,"y":0.0028},{"panel":"b","series":"NBStan","x":7.5,"y":0.0026},{"panel":"b","series":"NBStan","x":8.0,"y":0.0025},{"panel":"b","series":"NBStan","x":8.5,"y":0.0024},{"panel":"b","series":"NBStan","x":9.0,"y":0.0026},{"panel":"b","series":"NBStan","x":9.5,"y":0.0024},{"panel":"b","series":"NBStan","x":10.0,"y":0.0023},{"panel":"b","series":"NBStan","x":10.5,"y":0.0025},{"panel":"b","series":"NBStan","x":11.0,"y":0.0022},{"panel":"b","series":"NBStan","x":11.5,"y":0.0023},{"panel":"b","series":"NBStan","x":12.0,"y":0.0022},{"panel":"b","series":"NBStan","x":12.5,"y":0.0021},{"panel":"b","series":"NBStan","x":13.0,"y":0.0022},{"panel":"b","series":"NBStan","x":13.5,"y":0.002},{"panel":"b","series":"NBStan","x":14.0,"y":0.0021},{"panel":"b","series":"NBStan","x":14.5,"y":0.002},{"panel":"b","series":"NBStan","x":15.0,"y":0.0019},{"panel":"b","series":"NBStan","x":15.5,"y":0.002},{"panel":"b","series":"NBStan","x":16.0,"y":0.0019},{"panel":"b","series":"NBStan","x":16.5,"y":0.002},{"panel":"b","series":"NBStan","x":17.0,"y":0.0018},{"panel":"b","series":"NBStan","x":17.5,"y":0.0019},{"panel":"b","series":"NBStan","x":18.0,"y":0.0018},{"panel":"b","series":"NBStan","x":18.5,"y":0.0019},{"panel":"b","series":"NBStan","x":19.0,"y":0.0018},{"panel":"b","series":"NBStan","x":19.5,"y":0.0019},{"panel":"b","series":"NBStan","x":20.0,"y":0.0018},
{"panel":"b","series":"AuStan","x":1.52,"y":0.0005},{"panel":"b","series":"AuStan","x":1.56,"y":0.011},{"panel":"b","series":"AuStan","x":1.64,"y":0.0095},{"panel":"b","series":"AuStan","x":1.76,"y":0.0099},{"panel":"b","series":"AuStan","x":1.88,"y":0.011},{"panel":"b","series":"AuStan","x":2.0,"y":0.0113},{"panel":"b","series":"AuStan","x":2.12,"y":0.013},{"panel":"b","series":"AuStan","x":2.25,"y":0.015},{"panel":"b","series":"AuStan","x":2.37,"y":0.016},{"panel":"b","series":"AuStan","x":2.5,"y":0.0179},{"panel":"b","series":"AuStan","x":2.62,"y":0.016},{"panel":"b","series":"AuStan","x":2.74,"y":0.0139},{"panel":"b","series":"AuStan","x":2.86,"y":0.017},{"panel":"b","series":"AuStan","x":2.99,"y":0.0192},{"panel":"b","series":"AuStan","x":3.11,"y":0.018},{"panel":"b","series":"AuStan","x":3.23,"y":0.0179},{"panel":"b","series":"AuStan","x":3.35,"y":0.022},{"panel":"b","series":"AuStan","x":3.47,"y":0.0258},{"panel":"b","series":"AuStan","x":3.6,"y":0.024},{"panel":"b","series":"AuStan","x":3.72,"y":0.0232},{"panel":"b","series":"AuStan","x":3.8,"y":0.026},{"panel":"b","series":"AuStan","x":3.88,"y":0.0285},{"panel":"b","series":"AuStan","x":3.96,"y":0.024},{"panel":"b","series":"AuStan","x":4.05,"y":0.0205},{"panel":"b","series":"AuStan","x":4.17,"y":0.023},{"panel":"b","series":"AuStan","x":4.29,"y":0.0258},{"panel":"b","series":"AuStan","x":4.37,"y":0.029},{"panel":"b","series":"AuStan","x":4.45,"y":0.0325},{"panel":"b","series":"AuStan","x":4.54,"y":0.028},{"panel":"b","series":"AuStan","x":4.62,"y":0.0245},{"panel":"b","series":"AuStan","x":4.7,"y":0.027},{"panel":"b","series":"AuStan","x":4.78,"y":0.0298},{"panel":"b","series":"AuStan","x":4.86,"y":0.026},{"panel":"b","series":"AuStan","x":4.94,"y":0.0232},{"panel":"b","series":"AuStan","x":5.02,"y":0.027},{"panel":"b","series":"AuStan","x":5.11,"y":0.031},{"panel":"b","series":"AuStan","x":5.19,"y":0.026},{"panel":"b","series":"AuStan","x":5.27,"y":0.0219},{"panel":"b","series":"AuStan","x":5.35,"y":0.024},{"panel":"b","series":"AuStan","x":5.43,"y":0.0258},{"panel":"b","series":"AuStan","x":5.51,"y":0.023},{"panel":"b","series":"AuStan","x":5.6,"y":0.0205},{"panel":"b","series":"AuStan","x":5.68,"y":0.022},{"panel":"b","series":"AuStan","x":5.76,"y":0.0232},{"panel":"b","series":"AuStan","x":5.84,"y":0.02},{"panel":"b","series":"AuStan","x":5.92,"y":0.0179},{"panel":"b","series":"AuStan","x":6.0,"y":0.019},{"panel":"b","series":"AuStan","x":6.08,"y":0.0205},{"panel":"b","series":"AuStan","x":6.17,"y":0.0272},{"panel":"b","series":"AuStan","x":6.25,"y":0.021},{"panel":"b","series":"AuStan","x":6.33,"y":0.0166},{"panel":"b","series":"AuStan","x":6.41,"y":0.018},{"panel":"b","series":"AuStan","x":6.49,"y":0.0192},{"panel":"b","series":"AuStan","x":6.6,"y":0.016},{"panel":"b","series":"AuStan","x":6.74,"y":0.0139},{"panel":"b","series":"AuStan","x":6.82,"y":0.018},{"panel":"b","series":"AuStan","x":6.9,"y":0.0232},{"panel":"b","series":"AuStan","x":6.98,"y":0.021},{"panel":"b","series":"AuStan","x":7.06,"y":0.0192},{"panel":"b","series":"AuStan","x":7.14,"y":0.021},{"panel":"b","series":"AuStan","x":7.23,"y":0.0232},{"panel":"b","series":"AuStan","x":7.31,"y":0.022},{"panel":"b","series":"AuStan","x":7.39,"y":0.0205},{"panel":"b","series":"AuStan","x":7.47,"y":0.022},{"panel":"b","series":"AuStan","x":7.55,"y":0.0245},{"panel":"b","series":"AuStan","x":7.63,"y":0.022},{"panel":"b","series":"AuStan","x":7.72,"y":0.0192},{"panel":"b","series":"AuStan","x":7.8,"y":0.021},{"panel":"b","series":"AuStan","x":7.88,"y":0.0232},{"panel":"b","series":"AuStan","x":7.96,"y":0.02},{"panel":"b","series":"AuStan","x":8.04,"y":0.0179},{"panel":"b","series":"AuStan","x":8.12,"y":0.02},{"panel":"b","series":"AuStan","x":8.21,"y":0.0219},{"panel":"b","series":"AuStan","x":8.33,"y":0.02},{"panel":"b","series":"AuStan","x":8.45,"y":0.0192},{"panel":"b","series":"AuStan","x":8.57,"y":0.018},{"panel":"b","series":"AuStan","x":8.69,"y":0.0179},{"panel":"b","series":"AuStan","x":8.81,"y":0.019},{"panel":"b","series":"AuStan","x":8.94,"y":0.0205},{"panel":"b","series":"AuStan","x":9.06,"y":0.018},{"panel":"b","series":"AuStan","x":9.18,"y":0.015},{"panel":"b","series":"AuStan","x":9.3,"y":0.017},{"panel":"b","series":"AuStan","x":9.43,"y":0.0179},{"panel":"b","series":"AuStan","x":9.55,"y":0.016},{"panel":"b","series":"AuStan","x":9.67,"y":0.0139},{"panel":"b","series":"AuStan","x":9.8,"y":0.017},{"panel":"b","series":"AuStan","x":9.92,"y":0.0205},{"panel":"b","series":"AuStan","x":10.04,"y":0.018},{"panel":"b","series":"AuStan","x":10.16,"y":0.015},{"panel":"b","series":"AuStan","x":10.25,"y":0.016},{"panel":"b","series":"AuStan","x":10.33,"y":0.0192},{"panel":"b","series":"AuStan","x":10.45,"y":0.016},{"panel":"b","series":"AuStan","x":10.57,"y":0.0139},{"panel":"b","series":"AuStan","x":10.7,"y":0.013},{"panel":"b","series":"AuStan","x":10.82,"y":0.0126},{"panel":"b","series":"AuStan","x":10.94,"y":0.011},{"panel":"b","series":"AuStan","x":11.06,"y":0.0099},{"panel":"b","series":"AuStan","x":11.18,"y":0.012},{"panel":"b","series":"AuStan","x":11.3,"y":0.0152},{"panel":"b","series":"AuStan","x":11.42,"y":0.013},{"panel":"b","series":"AuStan","x":11.57,"y":0.0101},{"panel":"b","series":"AuStan","x":11.69,"y":0.013},{"panel":"b","series":"AuStan","x":11.81,"y":0.0173},{"panel":"b","series":"AuStan","x":11.93,"y":0.011},{"panel":"b","series":"AuStan","x":12.06,"y":0.0074},{"panel":"b","series":"AuStan","x":12.14,"y":0.01},{"panel":"b","series":"AuStan","x":12.22,"y":0.012},{"panel":"b","series":"AuStan","x":12.35,"y":0.011},{"panel":"b","series":"AuStan","x":12.47,"y":0.0101},{"panel":"b","series":"AuStan","x":12.59,"y":0.012},{"panel":"b","series":"AuStan","x":12.71,"y":0.0134},{"panel":"b","series":"AuStan","x":12.84,"y":0.014},{"panel":"b","series":"AuStan","x":12.96,"y":0.0147},{"panel":"b","series":"AuStan","x":13.08,"y":0.012},{"panel":"b","series":"AuStan","x":13.2,"y":0.0101},{"panel":"b","series":"AuStan","x":13.32,"y":0.012},{"panel":"b","series":"AuStan","x":13.45,"y":0.0134},{"panel":"b","series":"AuStan","x":13.57,"y":0.011},{"panel":"b","series":"AuStan","x":13.69,"y":0.0087},{"panel":"b","series":"AuStan","x":13.78,"y":0.011},{"panel":"b","series":"AuStan","x":13.86,"y":0.014},{"panel":"b","series":"AuStan","x":13.94,"y":0.01},{"panel":"b","series":"AuStan","x":14.02,"y":0.0074},{"panel":"b","series":"AuStan","x":14.14,"y":0.009},{"panel":"b","series":"AuStan","x":14.26,"y":0.0094},{"panel":"b","series":"AuStan","x":14.42,"y":0.008},{"panel":"b","series":"AuStan","x":14.59,"y":0.0074},{"panel":"b","series":"AuStan","x":14.71,"y":0.008},{"panel":"b","series":"AuStan","x":14.84,"y":0.0087},{"panel":"b","series":"AuStan","x":15.0,"y":0.007},{"panel":"b","series":"AuStan","x":15.16,"y":0.0061},{"panel":"b","series":"AuStan","x":15.32,"y":0.007},{"panel":"b","series":"AuStan","x":15.49,"y":0.0074},{"panel":"b","series":"AuStan","x":15.65,"y":0.008},{"panel":"b","series":"AuStan","x":15.82,"y":0.0087},{"panel":"b","series":"AuStan","x":15.94,"y":0.0095},{"panel":"b","series":"AuStan","x":16.06,"y":0.0101},{"panel":"b","series":"AuStan","x":16.18,"y":0.008},{"panel":"b","series":"AuStan","x":16.31,"y":0.0074},{"panel":"b","series":"AuStan","x":16.43,"y":0.009},{"panel":"b","series":"AuStan","x":16.55,"y":0.0101},{"panel":"b","series":"AuStan","x":16.7,"y":0.007},{"panel":"b","series":"AuStan","x":16.88,"y":0.0054},{"panel":"b","series":"AuStan","x":17.0,"y":0.0045},{"panel":"b","series":"AuStan","x":17.12,"y":0.0034},{"panel":"b","series":"AuStan","x":17.25,"y":0.005},{"panel":"b","series":"AuStan","x":17.37,"y":0.0068},{"panel":"b","series":"AuStan","x":17.53,"y":0.005},{"panel":"b","series":"AuStan","x":17.69,"y":0.0041},{"panel":"b","series":"AuStan","x":17.86,"y":0.006},{"panel":"b","series":"AuStan","x":18.02,"y":0.0068},{"panel":"b","series":"AuStan","x":18.18,"y":0.005},{"panel":"b","series":"AuStan","x":18.35,"y":0.0041},{"panel":"b","series":"AuStan","x":18.51,"y":0.006},{"panel":"b","series":"AuStan","x":18.68,"y":0.0081},{"panel":"b","series":"AuStan","x":18.84,"y":0.0076},{"panel":"b","series":"AuStan","x":19.0,"y":0.0074},{"panel":"b","series":"AuStan","x":19.16,"y":0.008},{"panel":"b","series":"AuStan","x":19.33,"y":0.0087},{"panel":"b","series":"AuStan","x":19.45,"y":0.006},{"panel":"b","series":"AuStan","x":19.58,"y":0.0034},{"panel":"b","series":"AuStan","x":19.74,"y":0.004},{"panel":"b","series":"AuStan","x":19.9,"y":0.0048},{"panel":"b","series":"AuStan","x":20.0,"y":0.005},
{"panel":"b","series":"MoStan","x":1.68,"y":0.0013},{"panel":"b","series":"MoStan","x":1.85,"y":0.003},{"panel":"b","series":"MoStan","x":2.0,"y":0.004},{"panel":"b","series":"MoStan","x":2.17,"y":0.006},{"panel":"b","series":"MoStan","x":2.35,"y":0.0065},{"panel":"b","series":"MoStan","x":2.5,"y":0.0073},{"panel":"b","series":"MoStan","x":2.67,"y":0.007},{"panel":"b","series":"MoStan","x":2.82,"y":0.008},{"panel":"b","series":"MoStan","x":3.0,"y":0.0086},{"panel":"b","series":"MoStan","x":3.15,"y":0.0075},{"panel":"b","series":"MoStan","x":3.3,"y":0.008},{"panel":"b","series":"MoStan","x":3.47,"y":0.0086},{"panel":"b","series":"MoStan","x":3.6,"y":0.009},{"panel":"b","series":"MoStan","x":3.8,"y":0.0073},{"panel":"b","series":"MoStan","x":3.95,"y":0.009},{"panel":"b","series":"MoStan","x":4.13,"y":0.0099},{"panel":"b","series":"MoStan","x":4.3,"y":0.009},{"panel":"b","series":"MoStan","x":4.45,"y":0.0113},{"panel":"b","series":"MoStan","x":4.6,"y":0.008},{"panel":"b","series":"MoStan","x":4.78,"y":0.0099},{"panel":"b","series":"MoStan","x":4.9,"y":0.0085},{"panel":"b","series":"MoStan","x":5.1,"y":0.0073},{"panel":"b","series":"MoStan","x":5.3,"y":0.0086},{"panel":"b","series":"MoStan","x":5.4,"y":0.01},{"panel":"b","series":"MoStan","x":5.6,"y":0.006},{"panel":"b","series":"MoStan","x":5.75,"y":0.007},{"panel":"b","series":"MoStan","x":5.92,"y":0.0086},{"panel":"b","series":"MoStan","x":6.1,"y":0.0075},{"panel":"b","series":"MoStan","x":6.25,"y":0.0046},{"panel":"b","series":"MoStan","x":6.4,"y":0.007},{"panel":"b","series":"MoStan","x":6.58,"y":0.0073},{"panel":"b","series":"MoStan","x":6.75,"y":0.0085},{"panel":"b","series":"MoStan","x":6.92,"y":0.0099},{"panel":"b","series":"MoStan","x":7.1,"y":0.008},{"panel":"b","series":"MoStan","x":7.27,"y":0.0073},{"panel":"b","series":"MoStan","x":7.45,"y":0.009},{"panel":"b","series":"MoStan","x":7.6,"y":0.0086},{"panel":"b","series":"MoStan","x":7.78,"y":0.007},{"panel":"b","series":"MoStan","x":7.95,"y":0.006},{"panel":"b","series":"MoStan","x":8.1,"y":0.0075},{"panel":"b","series":"MoStan","x":8.3,"y":0.0086},{"panel":"b","series":"MoStan","x":8.47,"y":0.008},{"panel":"b","series":"MoStan","x":8.62,"y":0.0073},{"panel":"b","series":"MoStan","x":8.8,"y":0.006},{"panel":"b","series":"MoStan","x":8.98,"y":0.0075},{"panel":"b","series":"MoStan","x":9.15,"y":0.0086},{"panel":"b","series":"MoStan","x":9.3,"y":0.008},{"panel":"b","series":"MoStan","x":9.47,"y":0.0073},{"panel":"b","series":"MoStan","x":9.65,"y":0.0078},{"panel":"b","series":"MoStan","x":9.8,"y":0.0075},{"panel":"b","series":"MoStan","x":10.0,"y":0.0086},{"panel":"b","series":"MoStan","x":10.15,"y":0.0075},{"panel":"b","series":"MoStan","x":10.33,"y":0.0082},{"panel":"b","series":"MoStan","x":10.5,"y":0.0066},{"panel":"b","series":"MoStan","x":10.68,"y":0.0073},{"panel":"b","series":"MoStan","x":10.85,"y":0.0065},{"panel":"b","series":"MoStan","x":11.0,"y":0.006},{"panel":"b","series":"MoStan","x":11.2,"y":0.007},{"panel":"b","series":"MoStan","x":11.4,"y":0.0073},{"panel":"b","series":"MoStan","x":11.57,"y":0.0055},{"panel":"b","series":"MoStan","x":11.75,"y":0.0046},{"panel":"b","series":"MoStan","x":11.95,"y":0.0048},{"panel":"b","series":"MoStan","x":12.1,"y":0.0061},{"panel":"b","series":"MoStan","x":12.3,"y":0.0054},{"panel":"b","series":"MoStan","x":12.5,"y":0.0068},{"panel":"b","series":"MoStan","x":12.7,"y":0.0041},{"panel":"b","series":"MoStan","x":12.9,"y":0.0054},{"panel":"b","series":"MoStan","x":13.1,"y":0.0061},{"panel":"b","series":"MoStan","x":13.3,"y":0.0048},{"panel":"b","series":"MoStan","x":13.5,"y":0.0055},{"panel":"b","series":"MoStan","x":13.7,"y":0.0041},{"panel":"b","series":"MoStan","x":13.9,"y":0.0061},{"panel":"b","series":"MoStan","x":14.1,"y":0.0054},{"panel":"b","series":"MoStan","x":14.3,"y":0.004},{"panel":"b","series":"MoStan","x":14.5,"y":0.0061},{"panel":"b","series":"MoStan","x":14.7,"y":0.0068},{"panel":"b","series":"MoStan","x":14.9,"y":0.0054},{"panel":"b","series":"MoStan","x":15.1,"y":0.0048},{"panel":"b","series":"MoStan","x":15.3,"y":0.0061},{"panel":"b","series":"MoStan","x":15.5,"y":0.0074},{"panel":"b","series":"MoStan","x":15.7,"y":0.0068},{"panel":"b","series":"MoStan","x":15.9,"y":0.0081},{"panel":"b","series":"MoStan","x":16.06,"y":0.0114},{"panel":"b","series":"MoStan","x":16.2,"y":0.0068},{"panel":"b","series":"MoStan","x":16.4,"y":0.0061},{"panel":"b","series":"MoStan","x":16.6,"y":0.0074},{"panel":"b","series":"MoStan","x":16.8,"y":0.0055},{"panel":"b","series":"MoStan","x":17.0,"y":0.0061},{"panel":"b","series":"MoStan","x":17.2,"y":0.0081},{"panel":"b","series":"MoStan","x":17.4,"y":0.0061},{"panel":"b","series":"MoStan","x":17.6,"y":0.0048},{"panel":"b","series":"MoStan","x":17.8,"y":0.0068},{"panel":"b","series":"MoStan","x":18.0,"y":0.0074},{"panel":"b","series":"MoStan","x":18.2,"y":0.0055},{"panel":"b","series":"MoStan","x":18.4,"y":0.0041},{"panel":"b","series":"MoStan","x":18.6,"y":0.0061},{"panel":"b","series":"MoStan","x":18.8,"y":0.0048},{"panel":"b","series":"MoStan","x":19.0,"y":0.0061},{"panel":"b","series":"MoStan","x":19.2,"y":0.0054},{"panel":"b","series":"MoStan","x":19.4,"y":0.0068},{"panel":"b","series":"MoStan","x":19.6,"y":0.0048},{"panel":"b","series":"MoStan","x":19.8,"y":0.0061},{"panel":"b","series":"MoStan","x":20.0,"y":0.0054},
{"panel":"b","series":"GeStan","x":1.84,"y":0.0013},{"panel":"b","series":"GeStan","x":1.95,"y":0.003},{"panel":"b","series":"GeStan","x":2.1,"y":0.005},{"panel":"b","series":"GeStan","x":2.2,"y":0.004},{"panel":"b","series":"GeStan","x":2.33,"y":0.006},{"panel":"b","series":"GeStan","x":2.45,"y":0.005},{"panel":"b","series":"GeStan","x":2.58,"y":0.007},{"panel":"b","series":"GeStan","x":2.7,"y":0.006},{"panel":"b","series":"GeStan","x":2.82,"y":0.0086},{"panel":"b","series":"GeStan","x":2.95,"y":0.007},{"panel":"b","series":"GeStan","x":3.07,"y":0.0073},{"panel":"b","series":"GeStan","x":3.19,"y":0.009},{"panel":"b","series":"GeStan","x":3.31,"y":0.0126},{"panel":"b","series":"GeStan","x":3.43,"y":0.009},{"panel":"b","series":"GeStan","x":3.56,"y":0.0086},{"panel":"b","series":"GeStan","x":3.68,"y":0.011},{"panel":"b","series":"GeStan","x":3.8,"y":0.0113},{"panel":"b","series":"GeStan","x":3.9,"y":0.014},{"panel":"b","series":"GeStan","x":4.0,"y":0.0166},{"panel":"b","series":"GeStan","x":4.1,"y":0.01},{"panel":"b","series":"GeStan","x":4.21,"y":0.0073},{"panel":"b","series":"GeStan","x":4.32,"y":0.012},{"panel":"b","series":"GeStan","x":4.42,"y":0.0139},{"panel":"b","series":"GeStan","x":4.48,"y":0.0155},{"panel":"b","series":"GeStan","x":4.54,"y":0.0179},{"panel":"b","series":"GeStan","x":4.62,"y":0.012},{"panel":"b","series":"GeStan","x":4.7,"y":0.0113},{"panel":"b","series":"GeStan","x":4.78,"y":0.014},{"panel":"b","series":"GeStan","x":4.86,"y":0.0139},{"panel":"b","series":"GeStan","x":4.94,"y":0.011},{"panel":"b","series":"GeStan","x":5.02,"y":0.0086},{"panel":"b","series":"GeStan","x":5.11,"y":0.012},{"panel":"b","series":"GeStan","x":5.19,"y":0.015},{"panel":"b","series":"GeStan","x":5.27,"y":0.011},{"panel":"b","series":"GeStan","x":5.35,"y":0.0099},{"panel":"b","series":"GeStan","x":5.43,"y":0.012},{"panel":"b","series":"GeStan","x":5.51,"y":0.0139},{"panel":"b","series":"GeStan","x":5.63,"y":0.01},{"panel":"b","series":"GeStan","x":5.76,"y":0.0073},{"panel":"b","series":"GeStan","x":5.88,"y":0.009},{"panel":"b","series":"GeStan","x":6.0,"y":0.0099},{"panel":"b","series":"GeStan","x":6.12,"y":0.008},{"panel":"b","series":"GeStan","x":6.25,"y":0.0073},{"panel":"b","series":"GeStan","x":6.37,"y":0.009},{"panel":"b","series":"GeStan","x":6.49,"y":0.0099},{"panel":"b","series":"GeStan","x":6.61,"y":0.007},{"panel":"b","series":"GeStan","x":6.74,"y":0.006},{"panel":"b","series":"GeStan","x":6.86,"y":0.008},{"panel":"b","series":"GeStan","x":6.98,"y":0.0086},{"panel":"b","series":"GeStan","x":7.1,"y":0.007},{"panel":"b","series":"GeStan","x":7.23,"y":0.006},{"panel":"b","series":"GeStan","x":7.35,"y":0.0065},{"panel":"b","series":"GeStan","x":7.47,"y":0.0073},{"panel":"b","series":"GeStan","x":7.6,"y":0.009},{"panel":"b","series":"GeStan","x":7.72,"y":0.0105},{"panel":"b","series":"GeStan","x":7.82,"y":0.0113},{"panel":"b","series":"GeStan","x":7.88,"y":0.0113},{"panel":"b","series":"GeStan","x":7.96,"y":0.008},{"panel":"b","series":"GeStan","x":8.04,"y":0.0073},{"panel":"b","series":"GeStan","x":8.2,"y":0.008},{"panel":"b","series":"GeStan","x":8.37,"y":0.0086},{"panel":"b","series":"GeStan","x":8.53,"y":0.007},{"panel":"b","series":"GeStan","x":8.69,"y":0.0053},{"panel":"b","series":"GeStan","x":8.82,"y":0.007},{"panel":"b","series":"GeStan","x":8.94,"y":0.0099},{"panel":"b","series":"GeStan","x":9.06,"y":0.008},{"panel":"b","series":"GeStan","x":9.18,"y":0.0073},{"panel":"b","series":"GeStan","x":9.27,"y":0.0095},{"panel":"b","series":"GeStan","x":9.35,"y":0.0126},{"panel":"b","series":"GeStan","x":9.47,"y":0.008},{"panel":"b","series":"GeStan","x":9.59,"y":0.006},{"panel":"b","series":"GeStan","x":9.72,"y":0.007},{"panel":"b","series":"GeStan","x":9.84,"y":0.0086},{"panel":"b","series":"GeStan","x":9.96,"y":0.007},{"panel":"b","series":"GeStan","x":10.08,"y":0.0046},{"panel":"b","series":"GeStan","x":10.2,"y":0.006},{"panel":"b","series":"GeStan","x":10.33,"y":0.0073},{"panel":"b","series":"GeStan","x":10.49,"y":0.0065},{"panel":"b","series":"GeStan","x":10.65,"y":0.0053},{"panel":"b","series":"GeStan","x":10.82,"y":0.007},{"panel":"b","series":"GeStan","x":10.98,"y":0.0086},{"panel":"b","series":"GeStan","x":11.14,"y":0.007},{"panel":"b","series":"GeStan","x":11.3,"y":0.006},{"panel":"b","series":"GeStan","x":11.47,"y":0.0055},{"panel":"b","series":"GeStan","x":11.57,"y":0.0068},{"panel":"b","series":"GeStan","x":11.69,"y":0.0062},{"panel":"b","series":"GeStan","x":11.81,"y":0.0041},{"panel":"b","series":"GeStan","x":11.96,"y":0.0046},{"panel":"b","series":"GeStan","x":12.05,"y":0.006},{"panel":"b","series":"GeStan","x":12.14,"y":0.0074},{"panel":"b","series":"GeStan","x":12.3,"y":0.005},{"panel":"b","series":"GeStan","x":12.47,"y":0.0034},{"panel":"b","series":"GeStan","x":12.6,"y":0.005},{"panel":"b","series":"GeStan","x":12.8,"y":0.0061},{"panel":"b","series":"GeStan","x":12.96,"y":0.004},{"panel":"b","series":"GeStan","x":13.1,"y":0.0045},{"panel":"b","series":"GeStan","x":13.2,"y":0.0028},{"panel":"b","series":"GeStan","x":13.32,"y":0.004},{"panel":"b","series":"GeStan","x":13.45,"y":0.0054},{"panel":"b","series":"GeStan","x":13.6,"y":0.004},{"panel":"b","series":"GeStan","x":13.74,"y":0.0048},{"panel":"b","series":"GeStan","x":13.9,"y":0.0035},{"panel":"b","series":"GeStan","x":14.05,"y":0.0041},{"panel":"b","series":"GeStan","x":14.2,"y":0.005},{"panel":"b","series":"GeStan","x":14.35,"y":0.0061},{"panel":"b","series":"GeStan","x":14.5,"y":0.004},{"panel":"b","series":"GeStan","x":14.7,"y":0.0034},{"panel":"b","series":"GeStan","x":14.9,"y":0.002},{"panel":"b","series":"GeStan","x":15.1,"y":0.0015},{"panel":"b","series":"GeStan","x":15.3,"y":0.003},{"panel":"b","series":"GeStan","x":15.49,"y":0.0048},{"panel":"b","series":"GeStan","x":15.65,"y":0.004},{"panel":"b","series":"GeStan","x":15.9,"y":0.0041},{"panel":"b","series":"GeStan","x":16.1,"y":0.005},{"panel":"b","series":"GeStan","x":16.31,"y":0.0061},{"panel":"b","series":"GeStan","x":16.5,"y":0.005},{"panel":"b","series":"GeStan","x":16.7,"y":0.0041},{"panel":"b","series":"GeStan","x":16.9,"y":0.0061},{"panel":"b","series":"GeStan","x":17.05,"y":0.0081},{"panel":"b","series":"GeStan","x":17.2,"y":0.006},{"panel":"b","series":"GeStan","x":17.37,"y":0.0048},{"panel":"b","series":"GeStan","x":17.5,"y":0.004},{"panel":"b","series":"GeStan","x":17.69,"y":0.0034},{"panel":"b","series":"GeStan","x":17.85,"y":0.004},{"panel":"b","series":"GeStan","x":18.02,"y":0.0054},{"panel":"b","series":"GeStan","x":18.2,"y":0.004},{"panel":"b","series":"GeStan","x":18.35,"y":0.0028},{"panel":"b","series":"GeStan","x":18.5,"y":0.004},{"panel":"b","series":"GeStan","x":18.68,"y":0.0061},{"panel":"b","series":"GeStan","x":18.84,"y":0.005},{"panel":"b","series":"GeStan","x":19.0,"y":0.0034},{"panel":"b","series":"GeStan","x":19.16,"y":0.004},{"panel":"b","series":"GeStan","x":19.33,"y":0.0048},{"panel":"b","series":"GeStan","x":19.5,"y":0.006},{"panel":"b","series":"GeStan","x":19.58,"y":0.0074},{"panel":"b","series":"GeStan","x":19.75,"y":0.0068},{"panel":"b","series":"GeStan","x":19.9,"y":0.006},{"panel":"b","series":"GeStan","x":20.0,"y":0.0055},
{"panel":"b","series":"DCAStan","x":1.52,"y":0.0},{"panel":"b","series":"DCAStan","x":1.6,"y":0.004},{"panel":"b","series":"DCAStan","x":1.68,"y":0.0086},{"panel":"b","series":"DCAStan","x":1.76,"y":0.012},{"panel":"b","series":"DCAStan","x":1.84,"y":0.015},{"panel":"b","series":"DCAStan","x":1.92,"y":0.018},{"panel":"b","series":"DCAStan","x":2.0,"y":0.0219},{"panel":"b","series":"DCAStan","x":2.08,"y":0.025},{"panel":"b","series":"DCAStan","x":2.17,"y":0.0285},{"panel":"b","series":"DCAStan","x":2.25,"y":0.031},{"panel":"b","series":"DCAStan","x":2.33,"y":0.0338},{"panel":"b","series":"DCAStan","x":2.42,"y":0.036},{"panel":"b","series":"DCAStan","x":2.5,"y":0.039},{"panel":"b","series":"DCAStan","x":2.55,"y":0.03},{"panel":"b","series":"DCAStan","x":2.6,"y":0.019},{"panel":"b","series":"DCAStan","x":2.66,"y":0.035},{"panel":"b","series":"DCAStan","x":2.74,"y":0.047},{"panel":"b","series":"DCAStan","x":2.82,"y":0.052},{"panel":"b","series":"DCAStan","x":2.9,"y":0.059},{"panel":"b","series":"DCAStan","x":2.98,"y":0.063},{"panel":"b","series":"DCAStan","x":3.07,"y":0.068},{"panel":"b","series":"DCAStan","x":3.12,"y":0.071},{"panel":"b","series":"DCAStan","x":3.18,"y":0.0735},{"panel":"b","series":"DCAStan","x":3.25,"y":0.075},{"panel":"b","series":"DCAStan","x":3.31,"y":0.076},{"panel":"b","series":"DCAStan","x":3.35,"y":0.088},{"panel":"b","series":"DCAStan","x":3.39,"y":0.102},{"panel":"b","series":"DCAStan","x":3.43,"y":0.095},{"panel":"b","series":"DCAStan","x":3.47,"y":0.0868},{"panel":"b","series":"DCAStan","x":3.52,"y":0.08},{"panel":"b","series":"DCAStan","x":3.56,"y":0.076},{"panel":"b","series":"DCAStan","x":3.64,"y":0.079},{"panel":"b","series":"DCAStan","x":3.72,"y":0.0788},{"panel":"b","series":"DCAStan","x":3.78,"y":0.076},{"panel":"b","series":"DCAStan","x":3.83,"y":0.0735},{"panel":"b","series":"DCAStan","x":3.9,"y":0.077},{"panel":"b","series":"DCAStan","x":3.96,"y":0.0775},{"panel":"b","series":"DCAStan","x":4.0,"y":0.072},{"panel":"b","series":"DCAStan","x":4.05,"y":0.068},{"panel":"b","series":"DCAStan","x":4.12,"y":0.075},{"panel":"b","series":"DCAStan","x":4.18,"y":0.0775},{"panel":"b","series":"DCAStan","x":4.22,"y":0.05},{"panel":"b","series":"DCAStan","x":4.26,"y":0.0099},{"panel":"b","series":"DCAStan","x":4.3,"y":0.05},{"panel":"b","series":"DCAStan","x":4.32,"y":0.071},{"panel":"b","series":"DCAStan","x":4.38,"y":0.075},{"panel":"b","series":"DCAStan","x":4.45,"y":0.0775},{"panel":"b","series":"DCAStan","x":4.53,"y":0.079},{"panel":"b","series":"DCAStan","x":4.62,"y":0.0815},{"panel":"b","series":"DCAStan","x":4.7,"y":0.079},{"panel":"b","series":"DCAStan","x":4.78,"y":0.08},{"panel":"b","series":"DCAStan","x":4.86,"y":0.0775},{"panel":"b","series":"DCAStan","x":4.94,"y":0.0788},{"panel":"b","series":"DCAStan","x":5.02,"y":0.077},{"panel":"b","series":"DCAStan","x":5.11,"y":0.08},{"panel":"b","series":"DCAStan","x":5.19,"y":0.077},{"panel":"b","series":"DCAStan","x":5.27,"y":0.0735},{"panel":"b","series":"DCAStan","x":5.31,"y":0.068},{"panel":"b","series":"DCAStan","x":5.35,"y":0.0629},{"panel":"b","series":"DCAStan","x":5.4,"y":0.072},{"panel":"b","series":"DCAStan","x":5.46,"y":0.0788},{"panel":"b","series":"DCAStan","x":5.53,"y":0.075},{"panel":"b","series":"DCAStan","x":5.6,"y":0.0735},{"panel":"b","series":"DCAStan","x":5.64,"y":0.079},{"panel":"b","series":"DCAStan","x":5.68,"y":0.0841},{"panel":"b","series":"DCAStan","x":5.72,"y":0.098},{"panel":"b","series":"DCAStan","x":5.76,"y":0.1086},{"panel":"b","series":"DCAStan","x":5.8,"y":0.09},{"panel":"b","series":"DCAStan","x":5.84,"y":0.0735},{"panel":"b","series":"DCAStan","x":5.89,"y":0.0497},{"panel":"b","series":"DCAStan","x":5.95,"y":0.057},{"panel":"b","series":"DCAStan","x":6.0,"y":0.055},{"panel":"b","series":"DCAStan","x":6.05,"y":0.047},{"panel":"b","series":"DCAStan","x":6.11,"y":0.065},{"panel":"b","series":"DCAStan","x":6.17,"y":0.0788},{"panel":"b","series":"DCAStan","x":6.22,"y":0.077},{"panel":"b","series":"DCAStan","x":6.28,"y":0.08},{"panel":"b","series":"DCAStan","x":6.33,"y":0.073},{"panel":"b","series":"DCAStan","x":6.38,"y":0.0656},{"panel":"b","series":"DCAStan","x":6.44,"y":0.0497},{"panel":"b","series":"DCAStan","x":6.49,"y":0.046},{"panel":"b","series":"DCAStan","x":6.54,"y":0.0417},{"panel":"b","series":"DCAStan","x":6.58,"y":0.038},{"panel":"b","series":"DCAStan","x":6.62,"y":0.0351},{"panel":"b","series":"DCAStan","x":6.66,"y":0.045},{"panel":"b","series":"DCAStan","x":6.7,"y":0.0576},{"panel":"b","series":"DCAStan","x":6.76,"y":0.065},{"panel":"b","series":"DCAStan","x":6.82,"y":0.071},{"panel":"b","series":"DCAStan","x":6.88,"y":0.078},{"panel":"b","series":"DCAStan","x":6.93,"y":0.0841},{"panel":"b","series":"DCAStan","x":6.98,"y":0.082},{"panel":"b","series":"DCAStan","x":7.03,"y":0.08},{"panel":"b","series":"DCAStan","x":7.09,"y":0.086},{"panel":"b","series":"DCAStan","x":7.15,"y":0.0907},{"panel":"b","series":"DCAStan","x":7.2,"y":0.087},{"panel":"b","series":"DCAStan","x":7.26,"y":0.0854},{"panel":"b","series":"DCAStan","x":7.31,"y":0.088},{"panel":"b","series":"DCAStan","x":7.36,"y":0.0907},{"panel":"b","series":"DCAStan","x":7.42,"y":0.093},{"panel":"b","series":"DCAStan","x":7.47,"y":0.096},{"panel":"b","series":"DCAStan","x":7.53,"y":0.092},{"panel":"b","series":"DCAStan","x":7.59,"y":0.0894},{"panel":"b","series":"DCAStan","x":7.65,"y":0.091},{"panel":"b","series":"DCAStan","x":7.72,"y":0.0934},{"panel":"b","series":"DCAStan","x":7.76,"y":0.091},{"panel":"b","series":"DCAStan","x":7.8,"y":0.0894},{"panel":"b","series":"DCAStan","x":7.86,"y":0.091},{"panel":"b","series":"DCAStan","x":7.91,"y":0.092},{"panel":"b","series":"DCAStan","x":7.98,"y":0.089},{"panel":"b","series":"DCAStan","x":8.04,"y":0.0868},{"panel":"b","series":"DCAStan","x":8.1,"y":0.085},{"panel":"b","series":"DCAStan","x":8.17,"y":0.0841},{"panel":"b","series":"DCAStan","x":8.27,"y":0.086},{"panel":"b","series":"DCAStan","x":8.37,"y":0.0868},{"panel":"b","series":"DCAStan","x":8.45,"y":0.083},{"panel":"b","series":"DCAStan","x":8.53,"y":0.08},{"panel":"b","series":"DCAStan","x":8.61,"y":0.077},{"panel":"b","series":"DCAStan","x":8.69,"y":0.0748},{"panel":"b","series":"DCAStan","x":8.78,"y":0.071},{"panel":"b","series":"DCAStan","x":8.86,"y":0.068},{"panel":"b","series":"DCAStan","x":8.94,"y":0.071},{"panel":"b","series":"DCAStan","x":9.02,"y":0.0735},{"panel":"b","series":"DCAStan","x":9.1,"y":0.072},{"panel":"b","series":"DCAStan","x":9.18,"y":0.071},{"panel":"b","series":"DCAStan","x":9.27,"y":0.069},{"panel":"b","series":"DCAStan","x":9.35,"y":0.068},{"panel":"b","series":"DCAStan","x":9.47,"y":0.0675},{"panel":"b","series":"DCAStan","x":9.59,"y":0.0669},{"panel":"b","series":"DCAStan","x":9.72,"y":0.066},{"panel":"b","series":"DCAStan","x":9.84,"y":0.0642},{"panel":"b","series":"DCAStan","x":9.96,"y":0.064},{"panel":"b","series":"DCAStan","x":10.08,"y":0.0629},{"panel":"b","series":"DCAStan","x":10.2,"y":0.062},{"panel":"b","series":"DCAStan","x":10.33,"y":0.0616},{"panel":"b","series":"DCAStan","x":10.41,"y":0.06},{"panel":"b","series":"DCAStan","x":10.49,"y":0.0576},{"panel":"b","series":"DCAStan","x":10.57,"y":0.054},{"panel":"b","series":"DCAStan","x":10.65,"y":0.051},{"panel":"b","series":"DCAStan","x":10.73,"y":0.05},{"panel":"b","series":"DCAStan","x":10.82,"y":0.049},{"panel":"b","series":"DCAStan","x":10.9,"y":0.047},{"panel":"b","series":"DCAStan","x":10.98,"y":0.0457},{"panel":"b","series":"DCAStan","x":11.08,"y":0.044},{"panel":"b","series":"DCAStan","x":11.17,"y":0.043},{"panel":"b","series":"DCAStan","x":11.25,"y":0.05},{"panel":"b","series":"DCAStan","x":11.32,"y":0.0518},{"panel":"b","series":"DCAStan","x":11.37,"y":0.0418},{"panel":"b","series":"DCAStan","x":11.49,"y":0.04},{"panel":"b","series":"DCAStan","x":11.6,"y":0.0385},{"panel":"b","series":"DCAStan","x":11.72,"y":0.0366},{"panel":"b","series":"DCAStan","x":11.85,"y":0.038},{"panel":"b","series":"DCAStan","x":11.97,"y":0.0366},{"panel":"b","series":"DCAStan","x":12.12,"y":0.034},{"panel":"b","series":"DCAStan","x":12.27,"y":0.0313},{"panel":"b","series":"DCAStan","x":12.37,"y":0.035},{"panel":"b","series":"DCAStan","x":12.47,"y":0.038},{"panel":"b","series":"DCAStan","x":12.6,"y":0.037},{"panel":"b","series":"DCAStan","x":12.72,"y":0.0375},{"panel":"b","series":"DCAStan","x":12.84,"y":0.036},{"panel":"b","series":"DCAStan","x":12.96,"y":0.0385},{"panel":"b","series":"DCAStan","x":13.04,"y":0.037},{"panel":"b","series":"DCAStan","x":13.12,"y":0.038},{"panel":"b","series":"DCAStan","x":13.25,"y":0.032},{"panel":"b","series":"DCAStan","x":13.37,"y":0.026},{"panel":"b","series":"DCAStan","x":13.48,"y":0.028},{"panel":"b","series":"DCAStan","x":13.6,"y":0.0286},{"panel":"b","series":"DCAStan","x":13.72,"y":0.031},{"panel":"b","series":"DCAStan","x":13.85,"y":0.034},{"panel":"b","series":"DCAStan","x":13.97,"y":0.031},{"panel":"b","series":"DCAStan","x":14.1,"y":0.026},{"panel":"b","series":"DCAStan","x":14.22,"y":0.027},{"panel":"b","series":"DCAStan","x":14.35,"y":0.028},{"panel":"b","series":"DCAStan","x":14.5,"y":0.022},{"panel":"b","series":"DCAStan","x":14.62,"y":0.019},{"panel":"b","series":"DCAStan","x":14.75,"y":0.016},{"panel":"b","series":"DCAStan","x":14.87,"y":0.018},{"panel":"b","series":"DCAStan","x":15.0,"y":0.0206},{"panel":"b","series":"DCAStan","x":15.12,"y":0.018},{"panel":"b","series":"DCAStan","x":15.25,"y":0.016},{"panel":"b","series":"DCAStan","x":15.4,"y":0.015},{"panel":"b","series":"DCAStan","x":15.57,"y":0.0139},{"panel":"b","series":"DCAStan","x":15.72,"y":0.018},{"panel":"b","series":"DCAStan","x":15.9,"y":0.022},{"panel":"b","series":"DCAStan","x":16.02,"y":0.018},{"panel":"b","series":"DCAStan","x":16.14,"y":0.0146},{"panel":"b","series":"DCAStan","x":16.26,"y":0.016},{"panel":"b","series":"DCAStan","x":16.38,"y":0.018},{"panel":"b","series":"DCAStan","x":16.5,"y":0.017},{"panel":"b","series":"DCAStan","x":16.63,"y":0.018},{"panel":"b","series":"DCAStan","x":16.72,"y":0.0175},{"panel":"b","series":"DCAStan","x":16.8,"y":0.0172},{"panel":"b","series":"DCAStan","x":16.88,"y":0.012},{"panel":"b","series":"DCAStan","x":16.96,"y":0.0066},{"panel":"b","series":"DCAStan","x":17.13,"y":0.004},{"panel":"b","series":"DCAStan","x":17.25,"y":0.005},{"panel":"b","series":"DCAStan","x":17.37,"y":0.006},{"panel":"b","series":"DCAStan","x":17.5,"y":0.008},{"panel":"b","series":"DCAStan","x":17.62,"y":0.0099},{"panel":"b","series":"DCAStan","x":17.75,"y":0.008},{"panel":"b","series":"DCAStan","x":17.86,"y":0.006},{"panel":"b","series":"DCAStan","x":18.02,"y":0.007},{"panel":"b","series":"DCAStan","x":18.19,"y":0.008},{"panel":"b","series":"DCAStan","x":18.3,"y":0.005},{"panel":"b","series":"DCAStan","x":18.44,"y":0.0013},{"panel":"b","series":"DCAStan","x":18.56,"y":0.003},{"panel":"b","series":"DCAStan","x":18.68,"y":0.0046},{"panel":"b","series":"DCAStan","x":18.84,"y":0.004},{"panel":"b","series":"DCAStan","x":19.0,"y":0.0042},{"panel":"b","series":"DCAStan","x":19.16,"y":0.0035},{"panel":"b","series":"DCAStan","x":19.33,"y":0.0026},{"panel":"b","series":"DCAStan","x":19.45,"y":0.005},{"panel":"b","series":"DCAStan","x":19.58,"y":0.008},{"panel":"b","series":"DCAStan","x":19.7,"y":0.0065},{"panel":"b","series":"DCAStan","x":19.8,"y":0.006},{"panel":"b","series":"DCAStan","x":20.0,"y":0.005}
 ]
},
"hconcat": [
 {
  "width": 410, "height": 302,
  "title": {"text": "a)", "orient": "bottom", "anchor": "end", "dx": 18, "offset": 2},
  "encoding": {
   "x": {"field": "x", "type": "quantitative", "scale": {"domain": [0, 20]}, "title": "λ (μm)", "axis": {"values": [0, 5, 10, 15, 20], "labelPadding": 24, "titlePadding": 6, "gridOpacity": {"condition": {"test": "datum.value <= 0 || datum.value >= 20", "value": 0}, "value": 1}}},
   "y": {"field": "y", "type": "quantitative", "scale": {"domain": [0, 0.12]}, "title": "s (Vλ (θ₁₂,φ₀)) (-)", "axis": {"values": [0, 0.02, 0.04, 0.06, 0.08, 0.1, 0.12], "format": ".2f", "labelPadding": 19, "titlePadding": 20, "titleFontSize": 17, "gridOpacity": {"condition": {"test": "datum.value <= 0 || datum.value >= 0.119", "value": 0}, "value": 1}}}
  },
  "layer": [
   {"data": {"name": "lines"}, "transform": [{"filter": "datum.panel === 'a'"}],
    "mark": {"type": "line", "clip": true},
    "encoding": {
     "stroke": {"field": "series", "type": "nominal", "scale": {"domain": ["AuStan", "DCAStan", "GeStan", "MoStan", "NBStan"], "range": ["#00B050", "#000000", "#FF0000", "#0070C0", "#404040"]}, "legend": null},
     "strokeDash": {"condition": {"test": "datum.series === 'MoStan' || datum.series === 'AuStan' || datum.series === 'NBStan'", "value": [2, 2]}, "value": [1, 0]},
     "strokeWidth": {"condition": [{"test": "datum.series === 'DCAStan'", "value": 3}, {"test": "datum.series === 'NBStan'", "value": 2}], "value": 2.7}
    }},
   {"data": {"name": "markers"}, "transform": [{"filter": "datum.panel === 'a' && datum.series !== 'DCAStan'"}],
    "mark": {"type": "point", "filled": true, "opacity": 1},
    "encoding": {
     "fill": {"field": "series", "type": "nominal", "scale": {"domain": ["AuStan", "DCAStan", "GeStan", "MoStan", "NBStan"], "range": ["#00B050", "#000000", "#FF0000", "#0070C0", "#404040"]}, "legend": null},
     "shape": {"condition": [{"test": "datum.series === 'MoStan'", "value": "triangle-up"}, {"test": "datum.series === 'GeStan'", "value": "square"}], "value": "circle"},
     "size": {"condition": [{"test": "datum.series === 'MoStan'", "value": 170}, {"test": "datum.series === 'GeStan'", "value": 110}], "value": 130}
    }},
   {"data": {"name": "markers"}, "transform": [{"filter": "datum.panel === 'a' && datum.series === 'DCAStan'"}],
    "mark": {"type": "point", "shape": "M-1,-1L1,1M-1,1L1,-1", "filled": false, "stroke": "#000000", "strokeWidth": 2.6, "size": 180, "opacity": 1},
    "encoding": {}},
   {"data": {"name": "markers"}, "transform": [{"filter": "datum.panel === 'none'"}],
    "mark": {"type": "point", "filled": false, "opacity": 1, "size": 1444, "strokeWidth": 2.4},
    "encoding": {
     "color": {"field": "series", "type": "nominal", "scale": {"domain": ["MoStan", "GeStan", "AuStan", "DCAStan", "NBStan"], "range": ["#0070C0", "#FF0000", "#00B050", "#000000", "#404040"]}, "legend": {"title": null, "orient": "none", "direction": "horizontal", "legendX": -81, "legendY": -90}},
     "shape": {"field": "series", "type": "nominal", "scale": {"domain": ["MoStan", "GeStan", "AuStan", "DCAStan", "NBStan"], "range": ["M-1,0h0.1M-0.79,0h0.1M-0.58,0h0.1M-0.37,0h0.1M0.27,0h0.1M0.48,0h0.1M0.69,0h0.1M0.9,0h0.1M0,-0.24L0.24,0.2L-0.24,0.2ZM0,-0.06L0.1,0.13L-0.1,0.13ZM-0.02,0.07H0.02", "M-1,0H1M-0.16,-0.16H0.16V0.16H-0.16ZM-0.06,-0.06H0.06V0.06H-0.06Z", "M-1,0h0.1M-0.79,0h0.1M-0.58,0h0.1M-0.37,0h0.1M0.27,0h0.1M0.48,0h0.1M0.69,0h0.1M0.9,0h0.1M0.16,0A0.16,0.16,0,1,1,-0.16,0A0.16,0.16,0,1,1,0.16,0ZM0.06,0A0.06,0.06,0,1,1,-0.06,0A0.06,0.06,0,1,1,0.06,0Z", "M-1,0H1M-0.27,-0.27L0.27,0.27M-0.27,0.27L0.27,-0.27", "M-1,0h0.07M-0.84,0h0.07M-0.68,0h0.07M-0.52,0h0.07M-0.36,0h0.07M-0.2,0h0.07M-0.04,0h0.07M0.12,0h0.07M0.28,0h0.07M0.44,0h0.07M0.6,0h0.07M0.76,0h0.07M0.92,0h0.07"]}, "legend": {"title": null, "orient": "none", "direction": "horizontal", "legendX": -81, "legendY": -90}}
    }}
  ]
 },
 {
  "width": 408, "height": 302,
  "title": {"text": "b)", "orient": "bottom", "anchor": "end", "dx": 18, "offset": 2},
  "encoding": {
   "x": {"field": "x", "type": "quantitative", "scale": {"domain": [0, 20]}, "title": "λ (μm)", "axis": {"values": [0, 5, 10, 15, 20], "labelPadding": 24, "titlePadding": 6, "gridOpacity": {"condition": {"test": "datum.value <= 0 || datum.value >= 20", "value": 0}, "value": 1}}},
   "y": {"field": "y", "type": "quantitative", "scale": {"domain": [0, 0.12]}, "title": "s (Vλ (θ₁₂,φ)) (-)", "axis": {"values": [0, 0.02, 0.04, 0.06, 0.08, 0.1, 0.12], "format": ".2f", "labelPadding": 19, "titlePadding": 20, "titleFontSize": 17, "gridOpacity": {"condition": {"test": "datum.value <= 0 || datum.value >= 0.119", "value": 0}, "value": 1}}}
  },
  "layer": [
   {"data": {"name": "lines"}, "transform": [{"filter": "datum.panel === 'b'"}],
    "mark": {"type": "line", "clip": true},
    "encoding": {
     "stroke": {"field": "series", "type": "nominal", "scale": {"domain": ["AuStan", "DCAStan", "GeStan", "MoStan", "NBStan"], "range": ["#00B050", "#000000", "#FF0000", "#0070C0", "#404040"]}, "legend": null},
     "strokeDash": {"condition": {"test": "datum.series === 'MoStan' || datum.series === 'NBStan'", "value": [2, 2]}, "value": [1, 0]},
     "strokeWidth": {"condition": [{"test": "datum.series === 'DCAStan'", "value": 3}, {"test": "datum.series === 'NBStan'", "value": 2}], "value": 2.7}
    }},
   {"data": {"name": "markers"}, "transform": [{"filter": "datum.panel === 'b' && datum.series !== 'DCAStan'"}],
    "mark": {"type": "point", "filled": true, "opacity": 1},
    "encoding": {
     "fill": {"field": "series", "type": "nominal", "scale": {"domain": ["AuStan", "DCAStan", "GeStan", "MoStan", "NBStan"], "range": ["#00B050", "#000000", "#FF0000", "#0070C0", "#404040"]}, "legend": null},
     "shape": {"condition": [{"test": "datum.series === 'MoStan'", "value": "triangle-up"}, {"test": "datum.series === 'GeStan'", "value": "square"}], "value": "circle"},
     "size": {"condition": [{"test": "datum.series === 'MoStan'", "value": 170}, {"test": "datum.series === 'GeStan'", "value": 110}], "value": 130}
    }},
   {"data": {"name": "markers"}, "transform": [{"filter": "datum.panel === 'b' && datum.series === 'DCAStan'"}],
    "mark": {"type": "point", "shape": "M-1,-1L1,1M-1,1L1,-1", "filled": false, "stroke": "#000000", "strokeWidth": 2.6, "size": 180, "opacity": 1},
    "encoding": {}},
   {"data": {"name": "markers"}, "transform": [{"filter": "datum.panel === 'none'"}],
    "mark": {"type": "point", "filled": false, "opacity": 1, "size": 1444, "strokeWidth": 2.4},
    "encoding": {
     "color": {"field": "series", "type": "nominal", "scale": {"domain": ["MoStan", "GeStan", "AuStan", "DCAStan", "NBStan"], "range": ["#0070C0", "#FF0000", "#00B050", "#000000", "#404040"]}, "legend": {"title": null, "orient": "none", "direction": "horizontal", "legendX": -81, "legendY": -90}},
     "shape": {"field": "series", "type": "nominal", "scale": {"domain": ["MoStan", "GeStan", "AuStan", "DCAStan", "NBStan"], "range": ["M-1,0h0.1M-0.79,0h0.1M-0.58,0h0.1M-0.37,0h0.1M0.27,0h0.1M0.48,0h0.1M0.69,0h0.1M0.9,0h0.1M0,-0.24L0.24,0.2L-0.24,0.2ZM0,-0.06L0.1,0.13L-0.1,0.13ZM-0.02,0.07H0.02", "M-1,0H1M-0.16,-0.16H0.16V0.16H-0.16ZM-0.06,-0.06H0.06V0.06H-0.06Z", "M-1,0h0.1M-0.79,0h0.1M-0.58,0h0.1M-0.37,0h0.1M0.27,0h0.1M0.48,0h0.1M0.69,0h0.1M0.9,0h0.1M0.16,0A0.16,0.16,0,1,1,-0.16,0A0.16,0.16,0,1,1,0.16,0ZM0.06,0A0.06,0.06,0,1,1,-0.06,0A0.06,0.06,0,1,1,0.06,0Z", "M-1,0H1M-0.27,-0.27L0.27,0.27M-0.27,0.27L0.27,-0.27", "M-1,0h0.07M-0.84,0h0.07M-0.68,0h0.07M-0.52,0h0.07M-0.36,0h0.07M-0.2,0h0.07M-0.04,0h0.07M0.12,0h0.07M0.28,0h0.07M0.44,0h0.07M0.6,0h0.07M0.76,0h0.07M0.92,0h0.07"]}, "legend": {"title": null, "orient": "none", "direction": "horizontal", "legendX": -81, "legendY": -90}}
    }}
  ]
 }
]
}
